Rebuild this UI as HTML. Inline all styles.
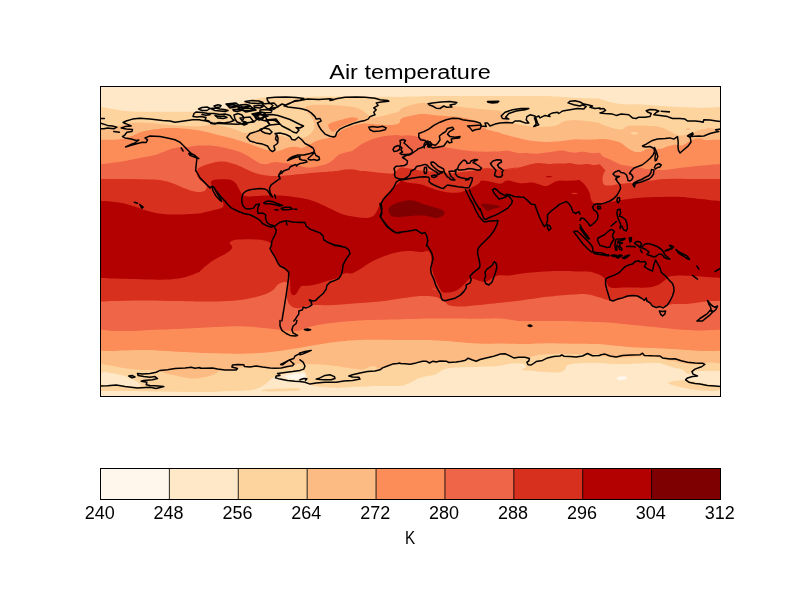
<!DOCTYPE html><html><head><meta charset="utf-8"><title>Air temperature</title>
<style>html,body{margin:0;padding:0;background:#fff}body{width:800px;height:600px;overflow:hidden;font-family:"Liberation Sans",sans-serif}svg{display:block}text{font-family:"Liberation Sans",sans-serif;fill:#000}</style></head><body>
<svg width="800" height="600" viewBox="0 0 800 600">
<rect width="800" height="600" fill="#fff"/>
<defs><clipPath id="ax"><rect x="100.5" y="86.5" width="620.0" height="310.0"/></clipPath></defs>
<g clip-path="url(#ax)">
<rect x="100.5" y="86.5" width="620.0" height="310.0" fill="#fee8c8"/>
<path d="M99,106.8 L100,106.8 L100.1,106.8 L100.2,106.8 L100.4,106.9 L100.8,106.9 L101.7,107.1 L103.2,107.4 L105.4,107.8 L108.3,108.3 L111.2,108.8 L114.1,109.3 L117.2,109.8 L120.3,110.3 L123.4,110.7 L126.6,111 L129.7,111.3 L132.8,111.5 L136.7,111.6 L141.4,111.8 L146.9,111.8 L153.1,111.8 L159.4,111.8 L165.6,111.8 L171.9,111.8 L178.1,111.8 L183.6,111.8 L188.3,111.8 L192.2,111.8 L195.3,111.8 L198.4,111.8 L201.6,111.6 L204.7,111.5 L207.8,111.3 L210.9,111 L214.1,110.6 L217.2,110.1 L220.3,109.4 L223.4,108.7 L226.6,108 L229.7,107.1 L232.8,106.2 L235.8,105.3 L238.6,104.3 L241.2,103.4 L243.8,102.4 L246.2,101.6 L248.5,100.8 L250.8,100.1 L252.9,99.4 L255.1,98.9 L257.3,98.4 L259.5,98 L261.7,97.7 L264.3,97.4 L267.3,97.2 L270.6,97.1 L274.4,97.1 L278.4,97 L282.8,97 L287.5,97 L292.5,97 L297,97 L301.1,96.9 L304.7,96.9 L307.8,96.8 L311.7,96.7 L316.4,96.6 L321.9,96.5 L328.1,96.5 L334.4,96.4 L340.6,96.4 L346.9,96.4 L353.1,96.4 L358.6,96.4 L363.3,96.5 L367.2,96.6 L370.3,96.8 L373.4,96.9 L376.6,96.9 L379.7,96.9 L382.8,96.8 L385.9,96.7 L389.1,96.7 L392.2,96.8 L395.3,96.9 L398.4,96.9 L401.6,96.9 L404.7,96.8 L407.8,96.6 L411.7,96.5 L416.4,96.4 L421.9,96.2 L428.1,96.1 L434.4,96.1 L440.6,96 L446.9,96 L453.1,96 L460.2,96 L468,96 L476.6,96 L485.9,96 L494.5,96 L502.3,96 L509.4,96 L515.6,96 L521.9,96 L528.1,96 L534.4,96 L540.6,96 L546.1,96.1 L550.8,96.2 L554.7,96.4 L557.8,96.6 L560.9,96.9 L564.1,97.1 L567.2,97.3 L570.3,97.6 L573.4,97.8 L576.6,97.9 L579.7,98 L582.8,98.1 L585.9,98.2 L589.1,98.2 L592.2,98.3 L595.3,98.4 L597.7,98.5 L599.2,98.6 L600,98.7 L600,98.9 L600.8,99.2 L602.3,99.8 L604.7,100.5 L607.8,101.5 L610.9,102.3 L614.1,103 L617.2,103.5 L620.3,103.9 L623.4,104.2 L626.6,104.3 L629.7,104.4 L632.8,104.2 L635.9,104.2 L639.1,104.3 L642.2,104.4 L645.3,104.7 L648.4,104.9 L651.6,105.1 L654.7,105.4 L657.8,105.6 L660.9,105.9 L664.1,106.1 L667.2,106.4 L670.3,106.6 L673.4,106.8 L676.6,107 L679.7,107.1 L682.8,107.1 L685.9,107.2 L689.1,107.3 L692.2,107.5 L695.3,107.6 L698.3,107.7 L701.1,107.8 L703.8,107.8 L706.2,107.6 L708.8,107.5 L711.3,107.4 L713.9,107.3 L716.6,107.2 L718.5,107.1 L719.8,107 L720.5,107 L722,107 L722,371 L720.5,371 L719.8,371 L718.5,371 L716.6,371 L713.9,371 L711.4,371 L709,371 L706.7,371 L704.5,371 L702.4,371 L700.4,371 L698.4,371 L696.6,371 L695,371.2 L693.8,371.5 L692.8,371.9 L692.2,372.6 L691.5,373.1 L690.7,373.5 L689.8,373.7 L688.9,373.9 L688,373.8 L687,373.4 L686.1,372.7 L685.2,371.8 L684.3,371 L683.5,370.4 L682.8,369.9 L682.2,369.6 L681.1,369.2 L679.7,368.8 L677.9,368.4 L675.8,367.9 L673.7,367.4 L671.6,366.9 L669.7,366.3 L667.8,365.7 L666.1,365.1 L664.5,364.6 L663.1,364.1 L661.9,363.6 L660.3,363.3 L658.4,363 L656.2,362.9 L653.8,362.9 L651.1,362.9 L648.3,363 L645.3,363.1 L642.2,363.3 L639.1,363.4 L635.9,363.6 L632.8,363.7 L629.7,363.9 L626.6,364 L623.4,364.1 L620.3,364.1 L617.2,364.1 L614.1,364 L610.9,363.9 L607.8,363.6 L604.7,363.4 L601.6,363.1 L598.4,363 L595.3,362.9 L592.2,362.9 L589.1,362.9 L585.9,363 L582.8,363.1 L579.7,363.3 L576.9,363.5 L574.4,363.7 L572.2,364 L570.3,364.3 L568.8,364.7 L567.6,365.2 L566.8,365.7 L566.3,366.3 L565.9,366.9 L565.6,367.6 L565.4,368.4 L565.2,369.2 L564.7,370 L563.9,370.7 L562.7,371.3 L561.1,372 L559.4,372.4 L557.5,372.6 L555.5,372.6 L553.3,372.5 L551.1,372.3 L548.9,372.2 L546.7,372.1 L544.5,372.1 L542.5,372 L540.6,371.8 L538.9,371.6 L537.3,371.4 L535.5,371.1 L533.5,371 L531.2,370.8 L528.8,370.6 L526.6,370.5 L524.7,370.3 L523.1,370.2 L521.9,370 L521.4,369.8 L521.6,369.4 L522.6,368.8 L524.3,368.2 L525.5,367.5 L526.1,366.8 L526.2,366 L525.7,365.3 L524.8,364.6 L523.5,364.1 L521.7,363.6 L519.5,363.4 L517.3,363.2 L515.1,363.2 L512.9,363.4 L510.8,363.6 L508.7,364 L506.6,364.4 L504.7,364.8 L502.8,365.3 L500.6,365.7 L498.1,366 L495.3,366.2 L492.2,366.4 L489.1,366.5 L485.9,366.6 L482.8,366.8 L479.7,366.8 L476.6,366.9 L473.4,367 L470.3,367.1 L467.2,367.1 L464.1,367.2 L460.9,367.3 L457.8,367.5 L454.7,367.6 L452,367.8 L449.6,368.1 L447.7,368.4 L446.1,368.6 L444.7,369 L443.5,369.5 L442.4,370 L441.4,370.7 L440.5,371.3 L439.5,372 L438.6,372.8 L437.6,373.6 L436.4,374.3 L434.8,374.8 L432.9,375.3 L430.8,375.5 L428.6,375.9 L426.4,376.3 L424.2,376.7 L422.1,377.2 L420,377.8 L418.2,378.5 L416.4,379.3 L414.9,380.2 L413.4,381.1 L412,381.8 L410.6,382.5 L409.4,383.2 L408,383.8 L406.4,384.3 L404.7,384.9 L402.8,385.4 L400.6,385.8 L398.1,386 L395.3,386.1 L392.2,386.1 L389.1,386 L385.9,386 L382.8,386 L379.7,386 L376.6,386 L373.4,386.1 L370.3,386.2 L367.2,386.4 L364.1,386.5 L360.9,386.7 L357.8,386.8 L354.7,387 L351.6,387.1 L348.4,387.3 L345.3,387.5 L342.2,387.6 L339.1,387.7 L335.9,387.7 L332.8,387.6 L329.7,387.5 L326.6,387.3 L323.4,387 L320.3,386.7 L317.2,386.5 L314.6,386.1 L312.6,385.6 L311.1,385.1 L310.2,384.4 L309.3,383.8 L308.5,383.1 L307.8,382.3 L307.2,381.6 L306.7,380.7 L306.5,379.8 L306.5,378.8 L306.6,377.7 L306.6,376.5 L306.5,375.3 L306.2,374.1 L305.7,372.9 L305,371.9 L304.2,371.2 L303.1,370.8 L301.9,370.6 L300.2,370.7 L298,370.9 L295.3,371.3 L292.2,372 L289.4,372.6 L286.9,373.1 L284.7,373.7 L282.8,374.2 L281.1,374.7 L279.5,375.2 L278.1,375.6 L276.9,376 L275.7,376.4 L274.6,376.9 L273.6,377.4 L272.6,378 L271.7,378.6 L270.7,379.4 L269.8,380.2 L268.9,381.1 L267.9,382 L266.8,383 L265.6,383.9 L264.4,384.8 L263,385.7 L261.6,386.5 L260.1,387.3 L258.6,388 L257,388.6 L255.4,389.2 L253.9,389.6 L252.3,389.9 L250.4,390.2 L248,390.4 L245.3,390.5 L242.2,390.7 L239.1,390.8 L235.9,390.9 L232.8,390.9 L229.7,391.1 L226.6,391.2 L223.4,391.3 L220.3,391.5 L217.2,391.7 L214.1,391.9 L210.9,392 L207.8,392.1 L204.7,392.1 L200,392.1 L193.8,392.1 L185.9,392 L176.6,391.8 L168,391.7 L160.2,391.6 L153.1,391.5 L146.9,391.3 L141.4,391.2 L136.7,391.1 L132.8,391.1 L129.7,390.9 L126.6,390.9 L123.4,390.9 L120.3,390.9 L117.2,390.9 L114.1,391 L110.9,391 L107.8,391 L104.7,391 L102.3,391 L100.8,391 L100,391 L99,391Z" fill="#fdd49e"/>
<path d="M99,130 L100,130 L100.1,130 L100.2,130 L100.4,129.9 L100.8,129.9 L101.7,129.7 L103.2,129.3 L105.4,128.8 L108.3,128.2 L111.2,127.5 L114.1,126.8 L117.2,126 L120.3,125.3 L123,124.6 L125.4,124.1 L127.3,123.7 L128.9,123.3 L130.4,123.1 L132,122.9 L133.6,122.8 L135.1,122.6 L137.1,122.6 L139.4,122.6 L142.2,122.6 L145.3,122.8 L148.4,122.9 L151.6,123.1 L154.7,123.3 L157.8,123.7 L160.9,124 L164.1,124.3 L167.2,124.6 L170.3,124.9 L173.4,125.2 L176.6,125.4 L179.7,125.6 L182.8,125.8 L185.9,125.9 L189.1,126.1 L192.2,126.2 L195.3,126.4 L198.4,126.3 L201.6,126.1 L204.7,125.7 L207.8,125 L210.9,124.7 L214.1,124.7 L217.2,125 L220.3,125.7 L223.3,126.3 L226.1,126.9 L228.8,127.5 L231.2,128.2 L233.5,128.8 L235.5,129.5 L237.3,130.3 L238.9,131 L240.4,131.7 L242,132.2 L243.6,132.7 L245.1,133 L246.6,133.1 L248,132.9 L249.4,132.6 L250.6,131.9 L252,131.4 L253.4,130.9 L254.9,130.6 L256.4,130.2 L258,130.1 L259.6,130.2 L261.1,130.5 L262.7,130.9 L264.3,131.4 L266,131.8 L267.8,132.3 L269.7,132.8 L271.4,133.2 L273,133.6 L274.4,134 L275.6,134.3 L277.2,134.7 L279.1,135.2 L281.2,135.7 L283.8,136.3 L285.9,136.9 L287.8,137.4 L289.4,137.9 L290.6,138.4 L292,138.7 L293.6,138.9 L295.3,138.9 L297.2,138.7 L298.6,138.6 L299.5,138.4 L300,138.3 L300,138.1 L300.4,138 L301.2,137.8 L302.3,137.6 L303.9,137.5 L305.4,137 L307,136.3 L308.6,135.3 L310.1,134.1 L311.5,132.8 L312.6,131.3 L313.4,129.9 L314.1,128.3 L314.4,126.7 L314.4,125 L314.1,123.2 L313.4,121.3 L312.7,119.5 L311.7,117.8 L310.6,116.1 L309.4,114.6 L308.2,113.2 L307.1,111.9 L306.1,110.8 L305.2,109.9 L304.7,109 L304.7,108.1 L305.2,107.3 L306.1,106.6 L307.5,105.9 L309.4,105.4 L311.7,105.1 L314.6,104.8 L317.9,104.7 L321.6,104.7 L325.8,104.8 L330.5,105.1 L334.9,105.3 L339.1,105.6 L343.1,105.8 L346.9,106.2 L350.3,106.6 L353.4,107.1 L356.2,107.8 L358.8,108.6 L360.9,109.5 L362.8,110.5 L364.4,111.7 L365.6,112.9 L366.9,114.1 L368.1,115.1 L369.4,116 L370.6,116.7 L372,117.2 L373.6,117.5 L375.3,117.4 L377.2,117.1 L379.1,116.7 L380.9,116.3 L382.8,115.9 L384.7,115.5 L386.9,114.9 L389.4,114.3 L392.2,113.6 L395.3,112.8 L397.7,112 L399.2,111.2 L400,110.4 L400,109.7 L400.8,108.8 L402.3,107.9 L404.7,107 L407.8,106 L410.8,105.1 L413.6,104.4 L416.2,103.8 L418.8,103.2 L421.2,103 L423.5,102.9 L425.8,103.1 L427.9,103.5 L430.7,103.9 L434.2,104.4 L438.2,104.8 L443,105.3 L447.3,105.7 L451.2,106.1 L454.7,106.4 L457.8,106.8 L460.9,107.1 L464.1,107.4 L467.2,107.7 L470.3,108 L473.4,108.3 L476.6,108.7 L479.7,109 L482.8,109.3 L485.9,109.6 L489.1,109.8 L492.2,110 L495.3,110.2 L497.7,110.3 L499.2,110.4 L500,110.4 L500,110.4 L500.2,110.7 L500.7,111.2 L501.4,112.1 L502.4,113.1 L503.3,114.3 L504.3,115.5 L505.2,116.7 L506.1,117.9 L507.1,119.1 L508.2,120.1 L509.4,121.1 L510.6,121.9 L512.3,122.7 L514.5,123.5 L517.2,124.3 L520.3,124.9 L523.4,125.5 L526.6,126 L529.7,126.4 L532.8,126.8 L535.9,126.9 L539.1,127 L542.2,127 L545.3,126.8 L548.1,126.6 L550.6,126.4 L552.8,126.2 L554.7,125.8 L556.4,125.4 L558,124.8 L559.4,124 L560.6,123 L562,122.2 L563.4,121.6 L564.9,121.2 L566.4,120.8 L568,120.6 L569.6,120.4 L571.1,120.2 L572.7,120.1 L574.6,120.1 L577,120.2 L579.7,120.4 L582.8,120.6 L585.9,120.9 L589.1,121.3 L592.2,121.7 L595.3,122.2 L597.7,122.6 L599.2,123 L600,123.2 L600,123.5 L600.5,123.8 L601.4,124.3 L602.8,124.8 L604.7,125.5 L606.6,126.2 L608.7,126.9 L610.8,127.5 L612.9,128.2 L615,128.7 L616.8,129.1 L618.6,129.4 L620.1,129.5 L621.5,129.5 L622.6,129.3 L623.4,128.8 L624.1,128.2 L624.8,127.6 L625.8,127 L626.9,126.5 L628.1,126.1 L629.5,125.7 L631.1,125.5 L632.8,125.4 L634.7,125.4 L636.9,125.4 L639.4,125.5 L642.2,125.6 L645.3,125.6 L648.3,125.8 L651.1,125.9 L653.8,126.1 L656.2,126.3 L658.6,126.7 L660.8,127.2 L662.8,127.9 L664.7,128.7 L666.5,129.6 L668.2,130.4 L669.9,131.3 L671.4,132.2 L672.9,133 L674.3,133.7 L675.7,134.4 L676.9,134.9 L678.2,135.3 L679.6,135.5 L681.1,135.4 L682.7,135.2 L684.2,134.9 L685.8,134.5 L687.3,134.1 L688.9,133.6 L690.6,133.1 L692.5,132.4 L694.5,131.7 L696.7,131 L698.5,130.3 L699.9,129.9 L700.9,129.5 L701.6,129.4 L702.5,129.2 L703.8,128.9 L705.3,128.7 L707.2,128.3 L708.9,128.2 L710.5,128.1 L711.9,128.2 L713.1,128.5 L714.4,128.7 L715.7,128.9 L717.1,129.2 L718.4,129.4 L719.5,129.6 L720.2,129.7 L720.5,129.8 L722,129.8 L722,363.5 L720.5,363.5 L719.8,363.4 L718.5,363.3 L716.6,363 L713.9,362.7 L711.7,362.5 L709.7,362.4 L708.1,362.5 L706.9,362.6 L705.6,362.9 L704.4,363.2 L703.1,363.6 L701.9,364.1 L700.2,364.4 L698,364.6 L695.3,364.5 L692.2,364.4 L689.5,364.2 L687.1,363.9 L685.1,363.6 L683.6,363.4 L681.8,363 L680,362.6 L677.9,362.2 L675.8,361.7 L673.7,361.3 L671.6,360.9 L669.7,360.5 L667.8,360.3 L666.1,359.9 L664.5,359.4 L663.1,358.9 L661.9,358.4 L660.3,357.9 L658.4,357.5 L656.2,357.2 L653.8,356.9 L651.1,356.8 L648.3,356.7 L645.3,356.6 L642.2,356.6 L639.1,356.7 L635.9,356.8 L632.8,356.9 L629.7,357.2 L626.6,357.4 L623.4,357.5 L620.3,357.7 L617.2,357.8 L614.5,357.7 L612.1,357.6 L610.1,357.4 L608.6,357.1 L607,356.7 L605.4,356.3 L603.9,355.8 L602.3,355.3 L600.4,354.8 L598,354.5 L595.3,354.2 L592.2,354.1 L589.1,354 L585.9,354 L582.8,354.1 L579.7,354.2 L576.6,354.3 L573.4,354.3 L570.3,354.2 L567.2,354.1 L564.1,353.9 L560.9,353.8 L557.8,353.8 L554.7,353.8 L551.6,353.9 L548.4,354 L545.3,354.2 L542.2,354.4 L539.4,354.8 L536.9,355.2 L534.7,355.7 L532.8,356.3 L531.1,356.7 L529.5,356.9 L528.1,357 L526.9,356.8 L525.3,356.8 L523.4,356.8 L521.2,356.8 L518.8,357 L516.4,356.9 L514.2,356.7 L512.2,356.3 L510.3,355.7 L508.4,355.2 L506.6,354.8 L504.7,354.5 L502.8,354.4 L501.2,354.3 L500,354.3 L499.1,354.4 L498.4,354.7 L497.5,355 L496.2,355.3 L494.7,355.8 L492.8,356.2 L490.9,356.7 L489.1,357.2 L487.2,357.6 L485.3,357.9 L483.5,358.4 L481.8,358.9 L480.1,359.4 L478.6,360.1 L477.1,360.5 L475.9,360.6 L474.8,360.5 L473.9,360.3 L472.9,359.9 L471.9,359.6 L470.8,359.3 L469.8,359 L468.7,358.9 L467.8,358.9 L466.9,359.2 L466.2,359.7 L465,360.1 L463.5,360.6 L461.7,361 L459.5,361.4 L457.3,361.7 L455.1,361.9 L452.9,362.1 L450.8,362.1 L448.5,362.1 L446.2,362 L443.8,361.8 L441.2,361.6 L438.9,361.5 L436.7,361.6 L434.7,361.8 L432.8,362.3 L430.9,362.5 L429.1,362.5 L427.2,362.3 L425.3,361.8 L423.1,361.7 L420.6,361.8 L417.8,362.3 L414.7,363 L411.7,363.5 L408.9,363.8 L406.2,363.8 L403.8,363.5 L401.6,363.4 L399.9,363.3 L398.6,363.3 L397.6,363.4 L396.5,363.6 L395.3,363.8 L393.9,364.2 L392.3,364.7 L390.7,365.2 L389,365.9 L387.2,366.6 L385.3,367.3 L383.6,368 L382,368.4 L380.6,368.7 L379.4,368.9 L378.3,368.8 L377.5,368.5 L376.8,368 L376.3,367.3 L375.7,366.7 L374.9,366.3 L374,366.1 L372.8,366.1 L371.7,366.2 L370.5,366.4 L369.3,366.8 L368.1,367.4 L366.9,367.9 L365.8,368.4 L364.8,368.8 L363.9,369.2 L362.4,369.4 L360.4,369.4 L357.8,369.2 L354.7,368.8 L351.6,368.4 L348.4,367.9 L345.3,367.4 L342.2,366.9 L339.1,366.5 L335.9,366.1 L332.8,365.7 L329.7,365.3 L326.6,365 L323.4,364.8 L320.3,364.5 L317.2,364.4 L314.1,364.2 L310.9,364 L307.8,363.9 L304.7,363.7 L302.1,363.6 L300.1,363.6 L298.6,363.7 L297.6,363.9 L296.7,364.1 L295.7,364.5 L294.8,364.9 L293.9,365.4 L292.9,365.9 L291.8,366.4 L290.6,366.8 L289.4,367.3 L288,367.7 L286.4,368 L284.7,368.4 L282.8,368.6 L280.7,368.8 L278.4,368.9 L275.8,368.8 L273,368.5 L270.1,368.3 L267.1,368 L264.1,367.7 L260.9,367.5 L257.9,367.2 L254.9,367.1 L252,367 L249.2,367 L246.6,367.1 L244.3,367.2 L242.2,367.3 L240.3,367.6 L238.8,367.9 L237.7,368.3 L237,368.8 L236.7,369.5 L235.7,369.9 L234.2,370.2 L232,370.4 L229.2,370.4 L226.7,370.4 L224.5,370.5 L222.7,370.6 L221.1,370.8 L219.7,371.1 L218.5,371.5 L217.4,372.2 L216.4,372.9 L215.2,373.7 L213.8,374.4 L212.2,375 L210.3,375.7 L208.4,376.2 L206.6,376.7 L204.7,377.1 L202.8,377.4 L201.1,377.7 L199.5,378 L198.1,378.2 L196.9,378.5 L195.5,378.6 L193.9,378.6 L192.2,378.6 L190.3,378.4 L188.1,378.1 L185.6,377.7 L182.8,377.1 L179.7,376.4 L176.7,375.8 L173.9,375.2 L171.2,374.7 L168.8,374.2 L166.5,373.7 L164.5,373 L162.7,372.3 L161.1,371.6 L159.4,371 L157.5,370.5 L155.5,370.2 L153.3,370.2 L150.9,370.1 L148.2,370 L145.3,369.9 L142.2,369.9 L139.1,369.7 L135.9,369.5 L132.8,369.2 L129.7,368.8 L126.6,368.4 L123.4,367.9 L120.3,367.4 L117.2,366.8 L114.1,366.3 L110.9,365.7 L107.8,365.1 L104.7,364.4 L102.3,364 L100.8,363.7 L100,363.5 L99,363.5Z" fill="#fdbb84"/>
<path d="M99,139.8 L100,139.8 L100.8,139.8 L102.3,139.8 L104.7,139.8 L107.8,139.8 L110.7,139.8 L113.3,139.7 L115.8,139.5 L117.9,139.4 L120,139.1 L122.1,138.8 L124.1,138.4 L126,137.9 L127.9,137.3 L130,136.6 L132.1,135.8 L134.2,134.9 L136.1,134.1 L137.7,133.4 L138.9,132.8 L139.8,132.3 L141.1,131.9 L142.6,131.4 L144.5,131 L146.7,130.6 L149.1,130.2 L151.8,129.8 L154.7,129.3 L157.8,128.9 L160.9,128.5 L164.1,128.3 L167.2,128.1 L170.3,128 L173.4,128 L176.6,128.1 L179.7,128.2 L182.8,128.5 L185.9,128.7 L189.1,129 L192.2,129.4 L195.3,129.8 L198.4,130.3 L201.6,130.9 L204.7,131.6 L207.8,132.3 L210.9,133.1 L214.1,133.9 L217.2,134.7 L220.3,135.4 L223.4,136.2 L226.6,137 L229.7,137.8 L232.8,138.6 L235.9,139.5 L239.1,140.4 L242.2,141.4 L245.3,142.5 L248.4,143.6 L251.6,144.7 L254.7,145.8 L257.8,146.9 L260.6,147.8 L263.1,148.7 L265.3,149.4 L267.2,150.1 L269.1,150.6 L270.9,151 L272.8,151.2 L274.7,151.4 L276.6,151.3 L278.4,151 L280.3,150.4 L282.2,149.7 L284.1,149 L285.9,148.3 L287.8,147.8 L289.7,147.3 L291.6,147 L293.4,146.8 L295.3,146.8 L297.2,147 L298.6,147.2 L299.5,147.4 L300,147.7 L300,148 L300.5,148.1 L301.4,147.9 L302.8,147.6 L304.7,146.9 L306.5,146.2 L308.2,145.4 L309.9,144.6 L311.4,143.6 L312.9,142.8 L314.3,142 L315.7,141.3 L316.9,140.7 L318.4,140.2 L320.1,139.7 L322.1,139.2 L324.2,138.8 L326.3,138.4 L328.4,138.1 L330.3,137.8 L332.2,137.6 L333.8,137.2 L335,136.6 L335.9,135.8 L336.6,134.9 L337.4,133.9 L338.5,132.8 L339.9,131.7 L341.4,130.6 L343.2,129.5 L345,128.5 L347.1,127.7 L349.2,126.9 L351.5,126.2 L353.8,125.5 L356.2,124.8 L358.8,124.2 L361.1,123.7 L363.3,123.5 L365.3,123.4 L367.2,123.6 L369.1,123.7 L370.9,123.9 L372.8,124.1 L374.7,124.2 L376.7,124.4 L378.9,124.6 L381.2,124.8 L383.8,125.1 L386.4,125.2 L389.2,125.1 L392.2,124.9 L395.3,124.6 L397.7,124 L399.2,123.1 L400,121.9 L400,120.4 L400.6,119.2 L401.9,118.2 L403.8,117.4 L406.2,116.8 L408.8,116.3 L411.5,115.7 L414.2,115.1 L417,114.4 L419.7,114 L422.4,113.9 L424.9,114 L427.4,114.3 L430.1,114.6 L432.9,114.9 L435.9,115.2 L439.1,115.6 L442.2,115.8 L445.3,116 L448.4,116.2 L451.6,116.4 L454.6,116.6 L457.5,116.9 L460.4,117.3 L463.3,117.8 L465.9,118.3 L468.4,118.8 L470.8,119.4 L472.9,119.9 L474.8,120.6 L476.4,121.4 L477.6,122.3 L478.6,123.3 L479.6,124.3 L480.7,125.3 L481.9,126.3 L483.1,127.3 L484.5,128.2 L486.1,129 L487.8,129.7 L489.7,130.3 L491.6,130.8 L493.4,131.3 L495.3,131.7 L497.2,132 L498.6,132.3 L499.5,132.6 L500,132.8 L500,132.9 L500.8,133.3 L502.3,133.8 L504.7,134.5 L507.8,135.3 L510.9,136.2 L514.1,137 L517.2,137.8 L520.3,138.6 L523.4,139.3 L526.6,139.9 L529.7,140.5 L532.8,140.9 L535.9,141.3 L539.1,141.6 L542.2,141.8 L545.3,141.9 L548.4,141.9 L551.6,141.8 L554.7,141.6 L557.8,141.4 L560.9,141.1 L564.1,140.7 L567.2,140.3 L570.3,139.8 L573.4,139.5 L576.6,139.3 L579.7,139.4 L582.8,139.5 L585.9,139.6 L589.1,139.6 L592.2,139.5 L595.3,139.4 L597.7,139.2 L599.2,139.1 L600,139 L600,138.9 L600.5,138.9 L601.4,138.9 L602.8,138.9 L604.7,139 L606.6,139.2 L608.4,139.4 L610.3,139.8 L612.2,140.3 L613.9,140.7 L615.5,141.1 L616.9,141.4 L618.1,141.8 L619.4,142.2 L620.6,142.8 L621.9,143.6 L623.1,144.6 L624.4,145.5 L625.6,146.5 L626.9,147.4 L628.1,148.4 L629.5,149.3 L630.8,150.1 L632.3,150.8 L633.9,151.5 L635.4,151.9 L637,152.1 L638.6,152.1 L640.1,151.9 L641.6,151.5 L642.9,151.1 L644.2,150.5 L645.2,149.8 L646.4,149.3 L647.7,148.9 L649,148.7 L650.4,148.6 L651.8,148.6 L653.1,148.6 L654.4,148.7 L655.6,148.8 L656.9,148.9 L658.1,148.9 L659.4,148.8 L660.6,148.7 L662,148.4 L663.6,147.9 L665.3,147.3 L667.2,146.6 L669.1,145.9 L670.9,145.4 L672.8,145.1 L674.7,144.8 L676.3,144.8 L677.7,144.8 L678.9,145.1 L679.8,145.4 L680.8,145.6 L681.9,145.4 L683.1,145.1 L684.3,144.4 L685.6,143.7 L686.8,143 L688.1,142.1 L689.3,141.2 L690.8,140.4 L692.5,139.7 L694.5,139.1 L696.7,138.6 L698.7,138.4 L700.4,138.5 L701.9,138.8 L703.1,139.5 L704.5,139.9 L706.1,140.1 L707.8,140.2 L709.7,140 L711.6,139.9 L713.5,139.8 L715.5,139.8 L717.5,139.8 L719,139.8 L720,139.8 L720.5,139.8 L722,139.8 L722,350.8 L720.5,350.8 L719.8,350.8 L718.5,350.8 L716.6,350.9 L713.9,350.9 L711.3,351 L708.8,351 L706.2,351 L703.8,351 L701.1,350.9 L698.3,350.8 L695.3,350.6 L692.2,350.4 L689.1,350.1 L685.9,349.9 L682.8,349.7 L679.7,349.4 L676.6,349.2 L673.4,349 L670.3,348.9 L667.2,348.7 L664.1,348.6 L660.9,348.4 L657.8,348.3 L654.7,348.1 L651.6,348 L648.4,347.9 L645.3,347.8 L642.2,347.7 L639.1,347.5 L635.9,347.4 L632.8,347.2 L629.7,346.9 L626.6,346.7 L623.4,346.4 L620.3,346.1 L617.2,345.9 L614.1,345.5 L610.9,345.2 L607.8,344.9 L604.7,344.6 L601.6,344.3 L598.4,344.1 L595.3,344 L592.2,343.9 L589.1,343.9 L585.9,343.8 L582.8,343.8 L579.7,343.8 L576.6,343.8 L573.4,343.7 L570.3,343.7 L567.2,343.6 L564.1,343.5 L560.9,343.5 L557.8,343.4 L554.7,343.3 L551.6,343.3 L548.4,343.3 L545.3,343.3 L542.2,343.4 L539.1,343.5 L535.9,343.6 L532.8,343.7 L529.7,343.9 L526.6,344 L523.4,344 L520.3,344 L517.2,343.9 L514.1,343.8 L510.9,343.8 L507.8,343.7 L504.7,343.6 L501.6,343.6 L498.4,343.6 L495.3,343.6 L492.2,343.7 L489.1,343.7 L485.9,343.7 L482.8,343.7 L479.7,343.6 L476.6,343.5 L473.4,343.3 L470.3,343.1 L467.2,342.9 L464.1,342.6 L460.9,342.3 L457.8,342 L454.7,341.7 L451.6,341.4 L448.4,341.1 L445.3,340.9 L442.2,340.7 L439.1,340.5 L435.9,340.4 L432.8,340.2 L429.7,340.1 L426.6,340.1 L423.4,340 L420.3,340 L417.2,340 L414.1,340 L410.9,340 L407.8,340 L404.7,340 L401.6,340 L398.4,340 L395.3,339.9 L392.2,339.9 L389.1,339.8 L385.9,339.8 L382.8,339.8 L379.7,339.8 L376.6,339.8 L373.4,339.8 L370.3,339.8 L367.2,339.8 L364.1,339.8 L360.9,339.9 L357.8,340 L354.7,340.2 L351.6,340.4 L348.4,340.6 L345.3,340.9 L342.2,341.2 L339.1,341.5 L335.9,341.9 L332.8,342.3 L329.7,342.8 L326.6,343.3 L323.4,343.7 L320.3,344.2 L317.2,344.7 L314.1,345.2 L310.9,345.7 L307.8,346.3 L304.7,347 L301.6,347.5 L298.4,348.1 L295.3,348.6 L292.2,349.1 L289.1,349.6 L285.9,350 L282.8,350.5 L279.7,350.9 L276.6,351.3 L273.4,351.7 L270.3,352.1 L267.2,352.4 L264.1,352.7 L260.9,352.9 L257.8,353.1 L254.7,353.3 L251.6,353.4 L248.4,353.5 L245.3,353.6 L242.2,353.7 L239.1,353.7 L235.9,353.7 L232.8,353.7 L229.7,353.6 L226.6,353.5 L223.4,353.5 L220.3,353.4 L217.2,353.3 L214.1,353.2 L210.9,353.2 L207.8,353.1 L204.7,353 L201.6,352.9 L198.4,352.8 L195.3,352.6 L192.2,352.5 L189.1,352.3 L185.9,352.1 L182.8,352 L179.7,351.8 L176.6,351.7 L173.4,351.5 L170.3,351.3 L167.2,351.1 L164.1,350.9 L160.9,350.7 L157.8,350.5 L154.7,350.3 L151.6,350.1 L148.4,350.1 L145.3,350 L142.2,350 L139.1,350 L135.9,350.1 L132.8,350.2 L129.7,350.2 L126.6,350.4 L123.4,350.5 L120.3,350.6 L117.2,350.8 L114.1,350.9 L110.9,350.9 L107.8,350.9 L104.7,350.9 L102.3,350.8 L100.8,350.8 L100,350.8 L99,350.8Z" fill="#fc8d59"/>
<path d="M99,164.2 L100,164.2 L100.8,164.1 L102.3,164 L104.7,163.7 L107.8,163.4 L110.9,163 L114.1,162.6 L117.2,162.2 L120.3,161.7 L123.4,161.2 L126.6,160.7 L129.7,160.1 L132.8,159.4 L135.9,158.8 L139.1,158.2 L142.2,157.6 L145.3,156.9 L148,156.4 L150.4,155.9 L152.3,155.6 L153.9,155.2 L155.4,154.9 L157,154.4 L158.6,153.8 L160.1,153.2 L161.7,152.5 L163.3,151.9 L164.9,151.3 L166.4,150.7 L168,150.1 L169.6,149.6 L171.1,149.1 L172.7,148.6 L174.2,148.2 L175.8,147.9 L177.3,147.6 L178.9,147.5 L180.4,147.3 L182,147.2 L183.6,147.2 L185.1,147.2 L186.7,147.1 L188.3,147 L189.9,146.8 L191.4,146.4 L193,146.2 L194.6,146 L196.1,145.8 L197.7,145.6 L199.6,145.5 L202,145.4 L204.7,145.4 L207.8,145.4 L210.9,145.6 L214.1,145.9 L217.2,146.3 L220.3,147 L223.4,147.6 L226.6,148.3 L229.7,149.1 L232.8,149.8 L235.8,150.7 L238.6,151.6 L241.2,152.6 L243.8,153.8 L246,154.9 L248.1,155.9 L249.9,157.1 L251.4,158.2 L253,159.2 L254.6,160.2 L256.1,161.2 L257.7,162.1 L259.2,162.9 L260.7,163.5 L262.2,163.9 L263.8,164.1 L265.2,164.2 L266.8,164.1 L268.2,163.8 L269.8,163.2 L271.1,162.8 L272.4,162.5 L273.5,162.2 L274.5,162.1 L275.6,162 L276.9,162 L278.2,162.2 L279.8,162.4 L281.2,162.7 L282.8,162.9 L284.2,163.1 L285.8,163.2 L287.2,163.4 L288.8,163.6 L290.2,163.9 L291.8,164.1 L293.2,164.4 L294.8,164.7 L296.2,165.1 L297.8,165.4 L299.2,165.8 L300.8,166.2 L302.2,166.6 L303.8,166.9 L305.2,167.2 L306.8,167.4 L308.2,167.5 L309.8,167.5 L311.4,167.4 L313.1,167.2 L315,166.9 L317,166.6 L319,166.1 L321,165.6 L323,165.1 L325,164.4 L326.8,163.8 L328.4,163 L329.9,162.2 L331.1,161.3 L332.3,160.4 L333.4,159.5 L334.5,158.5 L335.5,157.5 L336.4,156.6 L337.3,155.9 L338.1,155.2 L338.9,154.8 L339.9,154.2 L341.2,153.8 L342.8,153.2 L344.7,152.8 L346.4,152.3 L348,151.9 L349.4,151.6 L350.6,151.4 L352,150.9 L353.4,150.1 L354.9,149.1 L356.4,147.9 L358,146.7 L359.6,145.6 L361.1,144.6 L362.7,143.6 L364.3,142.7 L366,141.9 L367.8,141 L369.7,140.3 L371.6,139.5 L373.7,138.8 L375.8,138.2 L377.9,137.5 L380.1,137 L382.3,136.5 L384.5,136.2 L386.7,135.8 L389,135.6 L391.3,135.4 L393.8,135.2 L396.2,135.1 L398.1,135.1 L399.4,135.2 L400,135.4 L400,135.6 L400.5,135.8 L401.4,135.8 L402.8,135.6 L404.7,135.4 L406.6,135.3 L408.7,135.3 L410.8,135.4 L412.9,135.8 L415.1,136.2 L417.3,136.7 L419.5,137.3 L421.7,138 L423.7,138.8 L425.6,139.6 L427.3,140.5 L428.9,141.5 L430.4,142.4 L432,143.2 L433.6,144.1 L435.1,144.8 L436.8,145.5 L438.5,146 L440.3,146.4 L442.2,146.8 L444.2,147.1 L446.4,147.4 L448.8,147.8 L451.2,148.3 L454.1,148.7 L457.2,149.2 L460.6,149.7 L464.4,150.3 L467.9,150.7 L471.2,151.1 L474.2,151.4 L477,151.5 L480.3,151.6 L484,151.7 L488.2,151.7 L493,151.6 L496.5,151.5 L498.8,151.4 L500,151.3 L500,151.3 L500.5,151.2 L501.4,151.1 L502.8,150.9 L504.7,150.7 L506.4,150.6 L508,150.7 L509.4,150.8 L510.6,151.2 L512,151.5 L513.4,151.9 L514.9,152.3 L516.4,152.8 L518,153.1 L519.6,153.3 L521.1,153.3 L522.7,153.1 L524.2,153.1 L525.8,153.1 L527.3,153.1 L528.9,153.3 L530.4,153.4 L532,153.5 L533.6,153.6 L535.1,153.7 L536.7,153.7 L538.3,153.6 L539.9,153.5 L541.4,153.2 L543,153 L544.6,152.8 L546.1,152.6 L547.7,152.5 L549.2,152.3 L550.8,152 L552.3,151.8 L553.9,151.4 L555.4,151.2 L557,151 L558.6,150.8 L560.1,150.6 L561.8,150.6 L563.5,150.8 L565.3,151.1 L567.2,151.5 L568.9,151.9 L570.5,152.2 L571.9,152.5 L573.1,152.6 L574.5,152.7 L575.8,152.6 L577.3,152.4 L578.9,152.1 L580.4,151.9 L582,151.8 L583.6,151.8 L585.1,152 L586.7,152.2 L588.3,152.4 L589.9,152.7 L591.4,153 L593,153.2 L594.6,153.2 L596.1,153 L597.7,152.7 L599,152.7 L600,153.1 L600.8,153.8 L601.2,154.9 L602,155.8 L603,156.6 L604.2,157.2 L605.8,157.8 L607.2,158.3 L608.8,158.9 L610.2,159.6 L611.8,160.4 L613.2,161.1 L614.8,161.9 L616.2,162.6 L617.8,163.4 L619.2,164 L620.6,164.5 L621.9,164.9 L623.1,165.1 L624.4,165.3 L625.6,165.5 L626.9,165.7 L628.1,165.8 L629.3,166 L630.4,166.2 L631.5,166.4 L632.5,166.8 L633.6,167 L634.9,167.2 L636.2,167.4 L637.8,167.6 L639.2,167.8 L640.6,168 L641.9,168.2 L643.1,168.4 L644.4,168.7 L645.6,168.9 L646.9,169.1 L648.1,169.2 L649.4,169.4 L650.8,169.5 L652.2,169.6 L653.8,169.6 L655.2,169.7 L656.6,169.8 L658,169.9 L659.2,170 L660.8,170.1 L662.5,170 L664.5,169.9 L666.7,169.7 L669.1,169.4 L671.8,169.1 L674.7,168.7 L677.8,168.2 L680.9,167.8 L684.1,167.4 L687.2,167 L690.3,166.7 L693.4,166.4 L696.6,166.1 L699.7,165.8 L702.8,165.4 L706,165.2 L709.2,164.9 L712.4,164.6 L715.6,164.4 L718.1,164.2 L719.7,164.1 L720.5,164 L722,164 L722,329.8 L720.5,329.8 L719.8,329.8 L718.5,329.8 L716.6,329.9 L713.9,329.9 L711.3,330 L708.8,330.1 L706.2,330.3 L703.8,330.5 L701.1,330.6 L698.3,330.6 L695.3,330.5 L692.2,330.3 L689.1,330.1 L685.9,329.9 L682.8,329.7 L679.7,329.4 L676.6,329.2 L673.4,328.9 L670.3,328.7 L667.2,328.3 L664.1,328 L660.9,327.7 L657.8,327.4 L654.7,327.1 L651.6,326.8 L648.4,326.5 L645.3,326.2 L642.2,325.8 L639.1,325.5 L635.9,325.2 L632.8,324.9 L629.7,324.6 L626.6,324.3 L623.4,324 L620.3,323.7 L617.2,323.3 L614.1,323.1 L610.9,322.8 L607.8,322.6 L604.7,322.3 L601.7,322.2 L598.9,322 L596.2,321.9 L593.8,321.9 L591.2,321.8 L588.8,321.7 L586.2,321.7 L583.8,321.6 L580.6,321.4 L576.9,321.3 L572.5,321.2 L567.5,321.1 L561.1,321.1 L553.3,321 L544.1,321 L533.4,321 L525.5,321 L520.2,321 L517.5,321 L517.5,321 L517.1,320.9 L516.3,320.8 L515.1,320.5 L513.6,320.2 L511.6,319.9 L509.3,319.6 L506.6,319.2 L503.4,318.8 L500.4,318.5 L497.5,318.4 L494.6,318.3 L491.7,318.4 L489.1,318.5 L486.8,318.5 L484.7,318.6 L482.8,318.7 L479.8,318.7 L475.8,318.7 L470.6,318.7 L464.4,318.6 L458.1,318.6 L451.9,318.5 L445.6,318.5 L439.4,318.5 L433.1,318.5 L426.9,318.6 L420.6,318.7 L414.4,318.9 L408.1,319 L401.9,319.2 L395.6,319.4 L389.4,319.5 L383.8,319.7 L378.8,319.8 L374.4,319.9 L370.6,319.9 L367,320 L363.6,320.2 L360.3,320.4 L357.2,320.6 L354.3,320.9 L351.6,321 L349.2,321.2 L347.1,321.4 L344.6,321.6 L342,321.8 L339.1,322.1 L335.9,322.4 L332.8,322.8 L329.7,323.2 L326.6,323.6 L323.4,324.1 L320.4,324.6 L317.5,325.1 L314.6,325.7 L311.7,326.3 L309.1,327 L306.8,327.8 L304.7,328.6 L302.8,329.6 L300.6,330.3 L298.1,330.7 L295.3,330.9 L292.2,330.9 L289.4,330.8 L287.1,330.7 L285.1,330.5 L283.6,330.3 L282,330.1 L280.4,329.9 L278.9,329.7 L277.3,329.4 L275.4,329.2 L273,328.9 L270.3,328.7 L267.2,328.3 L264.1,328 L260.9,327.7 L257.8,327.4 L254.7,327.1 L251.6,326.8 L248.4,326.6 L245.3,326.4 L242.2,326.3 L239.1,326.3 L235.9,326.3 L232.8,326.3 L229.7,326.4 L226.6,326.6 L223.4,326.7 L220.3,326.8 L217.2,327 L214.1,327.1 L210.9,327.3 L207.8,327.5 L204.7,327.6 L201.6,327.8 L198.4,328 L195.3,328.1 L192.2,328.3 L189.1,328.4 L185.9,328.6 L182.8,328.7 L179.7,328.9 L176.6,329 L173.4,329.1 L170.3,329.2 L167.2,329.4 L164.1,329.5 L160.9,329.6 L157.8,329.7 L154.7,329.8 L151.6,330 L148.4,330.1 L145.3,330.3 L142.2,330.5 L139.1,330.7 L135.9,330.8 L132.8,330.9 L129.7,331.1 L126.6,331.1 L123.4,331.1 L120.3,331.1 L117.2,331.1 L114.1,330.9 L110.9,330.7 L107.8,330.4 L104.7,330.1 L102.3,329.8 L100.8,329.6 L100,329.5 L99,329.5Z" fill="#ef6548"/>
<path d="M99,179.1 L100,179.1 L100.8,179.1 L102.3,179.1 L104.7,179.1 L107.8,179.1 L111.7,179.1 L116.4,179.1 L121.9,179.1 L128.1,179.1 L134,179.1 L139.4,179.2 L144.5,179.2 L149.2,179.4 L153.3,179.5 L156.9,179.8 L159.9,180.1 L162.4,180.4 L164.9,180.9 L167.2,181.5 L169.5,182.2 L171.7,182.9 L174,183.8 L176.3,184.7 L178.8,185.7 L181.2,186.9 L183.7,187.9 L186,188.8 L188.3,189.7 L190.5,190.4 L192.5,191.1 L194.4,191.5 L196.1,191.8 L197.7,192 L198.8,192.1 L199.6,192.2 L200,192.2 L200,192.2 L200.3,192.1 L200.9,192 L201.9,191.8 L203.1,191.5 L204.2,191 L205.2,190.4 L205.9,189.6 L206.6,188.6 L206.8,187.6 L206.6,186.5 L206.1,185.3 L205.2,184.1 L204.3,183 L203.3,182.2 L202.4,181.5 L201.4,181.1 L200.5,180.4 L199.5,179.5 L198.6,178.3 L197.6,176.9 L197,175.5 L196.7,174 L196.7,172.4 L197,170.9 L197.4,169.6 L197.9,168.7 L198.4,168 L199.1,167.7 L200,167.2 L201.2,166.7 L202.8,166 L204.7,165.3 L206.6,164.6 L208.4,163.9 L210.3,163.4 L212.2,162.9 L214.1,162.5 L215.9,162.1 L217.8,161.8 L219.7,161.6 L221.6,161.5 L223.7,161.6 L225.8,161.8 L227.9,162.3 L230.1,162.8 L232.3,163.4 L234.5,164.1 L236.7,164.8 L238.8,165.7 L240.9,166.5 L242.8,167.4 L244.7,168.4 L246.2,169.2 L247.5,169.8 L248.4,170.2 L249.1,170.5 L249.5,170.8 L249.8,170.9 L250,171 L250,171 L250.4,171.2 L251.2,171.5 L252.3,171.9 L253.9,172.6 L255.6,173.2 L257.5,173.7 L259.5,174.2 L261.7,174.7 L264,175.1 L266.3,175.4 L268.8,175.7 L271.2,175.9 L273.9,176 L276.7,176 L279.7,175.9 L282.8,175.7 L285.9,175.5 L289.1,175.2 L292.2,174.9 L295.3,174.6 L297.7,174.3 L299.2,174.2 L300,174.1 L300,174.1 L300.8,174 L302.3,173.9 L304.7,173.7 L307.8,173.3 L310.9,173.1 L314.1,172.8 L317.2,172.6 L320.3,172.3 L323.3,172.1 L326.1,171.9 L328.8,171.6 L331.2,171.4 L333.3,171.2 L334.8,171.1 L335.9,171 L336.6,171 L337.3,170.9 L338.3,170.8 L339.4,170.5 L340.6,170.2 L342,170 L343.6,169.7 L345.3,169.5 L347.2,169.4 L349,169.3 L350.7,169.3 L352.3,169.4 L353.9,169.5 L355.3,169.7 L356.5,170 L357.6,170.2 L358.6,170.5 L359.6,170.8 L360.7,170.9 L361.9,171 L363.1,171 L364.7,171.1 L366.6,171.2 L368.8,171.5 L371.2,171.8 L373.9,172.1 L376.7,172.4 L379.7,172.7 L382.8,173 L385.6,173.3 L387.9,173.5 L389.9,173.6 L391.4,173.7 L393,173.3 L394.6,172.5 L396.1,171.2 L397.7,169.6 L399.1,168.3 L400.6,167.6 L401.9,167.3 L403.1,167.5 L404.4,167.7 L405.6,167.9 L406.9,168.1 L408.1,168.2 L409.4,168.4 L410.6,168.6 L411.9,168.9 L413.1,169.1 L414.4,169.4 L415.6,169.6 L416.9,169.9 L418.1,170.1 L419.4,170.4 L420.8,170.6 L422.2,170.8 L423.8,170.9 L425.2,171.1 L426.8,171.2 L428.2,171.3 L429.8,171.4 L431.4,171.5 L433.1,171.6 L435,171.7 L437,171.8 L438.9,172 L440.6,172.2 L442.2,172.4 L443.8,172.6 L445.1,172.8 L446.4,173 L447.5,173.2 L448.5,173.3 L449.6,173.4 L450.9,173.3 L452.2,173.2 L453.8,173.1 L455.2,172.9 L456.8,172.7 L458.2,172.4 L459.8,172.2 L461.4,172 L463.1,171.8 L465,171.6 L467,171.4 L469,171.2 L471,171 L473,170.8 L475,170.4 L476.8,170.1 L478.2,169.8 L479.5,169.4 L480.5,169.1 L481.6,168.8 L482.9,168.5 L484.2,168.3 L485.8,168.2 L487.2,168.1 L488.8,168.2 L490.2,168.3 L491.8,168.5 L493.4,168.7 L495.1,168.9 L497,169.2 L499,169.4 L501,169.6 L503,169.7 L505,169.7 L507,169.6 L508.9,169.5 L510.6,169.2 L512.2,168.9 L513.8,168.6 L515.1,168.2 L516.4,167.9 L517.5,167.6 L518.5,167.2 L518,167.2 L516,167.5 L512.5,168 L507.5,168.8 L504.5,169.3 L503.6,169.6 L504.7,169.7 L507.8,169.4 L510.8,169.1 L513.6,168.7 L516.2,168.2 L518.8,167.5 L521.2,166.9 L523.5,166.3 L525.8,165.7 L527.9,165 L530,164.5 L531.8,164 L533.6,163.7 L535.1,163.3 L536.7,163.2 L538.3,163.1 L539.9,163.1 L541.4,163.3 L543,163.4 L544.6,163.6 L546.1,163.7 L547.7,163.9 L549.2,163.9 L550.8,163.9 L552.3,163.8 L553.9,163.5 L555.4,163.4 L557,163.4 L558.6,163.4 L560.1,163.6 L561.8,163.6 L563.5,163.6 L565.3,163.5 L567.2,163.2 L568.9,163.1 L570.5,163.2 L571.9,163.3 L573.1,163.7 L574.5,163.9 L575.8,164.2 L577.3,164.4 L578.9,164.5 L580.4,164.6 L582,164.5 L583.6,164.3 L585.1,164 L586.7,163.9 L588.3,163.9 L589.9,164.2 L591.4,164.7 L593,165 L594.6,165 L596.1,164.9 L597.7,164.6 L598.8,164.4 L599.6,164.3 L600,164.2 L600,164.4 L600.2,164.7 L600.7,165.2 L601.4,166 L602.4,167 L603.2,167.9 L604,168.7 L604.7,169.4 L605.3,170.1 L605.6,170.5 L605.7,170.8 L605.5,171 L605.1,171 L604.6,171.5 L604.1,172.4 L603.6,173.8 L603,175.7 L602.7,177.4 L602.5,179.1 L602.5,180.6 L602.8,182 L603.1,183.2 L603.6,184.1 L604.3,184.7 L605,185.2 L606.2,185.4 L607.7,185.5 L609.5,185.4 L611.7,185.2 L613.9,184.9 L616.1,184.6 L618.3,184.3 L620.5,184 L622.7,183.7 L624.9,183.5 L627.1,183.3 L629.2,183.1 L631.5,182.9 L633.8,182.7 L636.2,182.4 L638.8,182.1 L641.2,181.8 L643.8,181.5 L646.2,181.2 L648.8,180.8 L651.2,180.5 L653.5,180.2 L655.8,179.9 L657.9,179.6 L660.7,179.3 L664.2,179.1 L668.2,178.9 L673,178.7 L677.1,178.7 L680.7,178.7 L683.8,178.7 L686.2,178.9 L688.9,179 L691.7,179.1 L694.7,179.1 L697.8,179.1 L701.3,179.1 L705.1,179.1 L709.2,179.1 L713.8,179.1 L717.1,179.1 L719.4,179.1 L720.5,179.1 L722,179.1 L722,300.8 L720.5,300.8 L719.8,300.8 L718.5,300.8 L716.6,300.9 L713.9,300.9 L711.3,301 L708.8,301.2 L706.2,301.5 L703.8,301.8 L701.2,302.1 L698.8,302.4 L696.2,302.8 L693.8,303.2 L691.2,303.5 L688.8,303.8 L686.2,303.9 L683.8,304 L681.6,304 L679.7,304 L678.1,304 L676.9,303.9 L675.6,303.9 L674.4,303.9 L673.1,304 L671.9,304.2 L670.6,304.4 L669.4,304.7 L668.1,305.1 L666.9,305.5 L665.5,305.9 L663.9,306.2 L662.2,306.5 L660.3,306.6 L658.5,306.6 L656.8,306.4 L655.1,306 L653.6,305.4 L652.1,304.7 L650.7,304 L649.3,303.2 L648.1,302.3 L646.8,301.4 L645.6,300.5 L644.3,299.6 L643.1,298.6 L641.8,297.8 L640.4,297.2 L638.9,296.7 L637.3,296.3 L635.7,296.1 L634,296.1 L632.2,296.2 L630.3,296.5 L628.4,296.9 L626.6,297.4 L624.7,297.9 L622.8,298.6 L621,299.1 L619.3,299.7 L617.7,300.1 L616.1,300.6 L614.6,300.8 L613.2,300.9 L611.9,300.9 L610.7,300.7 L609.3,300.4 L607.9,300.1 L606.4,299.7 L604.9,299.2 L603.2,298.7 L601.5,298.1 L599.7,297.6 L597.8,296.9 L595.9,296.4 L594.1,295.8 L592.2,295.3 L590.3,294.8 L588.4,294.5 L586.6,294.2 L584.7,294.1 L582.8,294.1 L580.6,294.1 L578.1,294.2 L575.3,294.4 L572.2,294.5 L569.1,294.7 L565.9,295 L562.8,295.2 L559.7,295.5 L556.6,295.8 L553.4,296.2 L550.3,296.5 L547.2,296.8 L544.1,297.1 L540.9,297.5 L537.8,297.9 L534.7,298.4 L531.6,298.9 L528.4,299.3 L525.3,299.8 L522.2,300.3 L519.1,300.7 L515.9,301.1 L512.8,301.5 L509.7,301.8 L506.6,302.1 L503.4,302.4 L500.3,302.7 L497.2,303 L494.1,303.4 L490.9,303.7 L487.8,304.1 L484.7,304.4 L482.3,304.7 L480.8,304.9 L480,304.9 L480,304.9 L479.4,304.9 L478.1,305 L476.2,305.2 L473.8,305.5 L471.3,305.8 L469,306 L466.7,306.2 L464.5,306.4 L462.3,306.5 L460.1,306.5 L457.9,306.4 L455.8,306.3 L453.8,306.2 L452.1,306 L450.6,305.7 L449.4,305.3 L448.3,304.9 L447.3,304.3 L446.6,303.6 L445.9,302.8 L445.2,302.1 L444.4,301.5 L443.6,300.9 L442.6,300.5 L441.7,300 L440.7,299.4 L439.8,298.8 L438.9,298.2 L437.7,297.6 L436.3,297.1 L434.7,296.8 L432.8,296.5 L430.6,296.2 L428.1,296.1 L425.3,296 L422.2,296 L419.1,296.1 L415.9,296.4 L412.8,296.7 L409.7,297.2 L406.6,297.7 L403.4,298.1 L400.3,298.6 L397.2,299.1 L394.1,299.6 L390.9,300 L387.8,300.5 L384.7,300.9 L381.2,301.3 L377.3,301.7 L373,302.1 L368.2,302.4 L363.9,302.7 L360,303 L356.6,303.2 L353.4,303.5 L350.3,303.7 L347.2,303.9 L344.1,304.2 L340.9,304.4 L338,304.7 L335.4,304.9 L332.9,305 L330.8,305.2 L328.5,305.2 L326.2,305.2 L323.8,305.2 L321.2,305 L319,304.9 L316.9,304.9 L315.1,304.9 L313.6,304.9 L311.9,305.1 L310.1,305.4 L308.2,305.8 L306.1,306.4 L304.4,306.9 L302.8,307.3 L301.5,307.7 L300.4,308 L299.3,308.2 L298.1,308.3 L296.9,308.3 L295.7,308.1 L294.5,307.8 L293.3,307.4 L292.2,306.7 L291.1,306 L290.1,305.1 L289.3,304.3 L288.7,303.4 L288.2,302.4 L287.8,301.4 L287.5,300.3 L287.3,299.1 L287.1,297.9 L287,296.6 L287,295.1 L287.1,293.7 L287.3,292.1 L287.4,290.7 L287.5,289.2 L287.6,287.9 L287.7,286.7 L287.6,285.5 L287.5,284.5 L287.2,283.6 L286.8,282.8 L286.4,282.2 L286.1,281.9 L285.8,281.7 L285.5,281.8 L284.9,281.9 L284.1,282.1 L283.1,282.3 L281.9,282.5 L280.7,282.9 L279.6,283.4 L278.6,284.1 L277.6,284.8 L276.8,285.7 L276,286.5 L275.3,287.4 L274.7,288.4 L273.9,289.3 L272.8,290.3 L271.4,291.2 L269.9,292.1 L268.2,293 L266.5,293.7 L264.7,294.4 L262.8,295.1 L260.8,295.7 L258.6,296.3 L256.2,296.9 L253.8,297.6 L251.1,298.1 L248.3,298.7 L245.3,299.2 L242.2,299.7 L239.1,300.1 L235.9,300.4 L232.8,300.7 L229.7,300.9 L226.6,301.1 L223.4,301.2 L220.3,301.3 L217.2,301.4 L214.1,301.5 L210.9,301.6 L207.8,301.6 L204.7,301.6 L201.6,301.6 L198.4,301.5 L195.3,301.4 L192.2,301.3 L189.1,301.3 L185.9,301.2 L182.8,301.1 L179.7,301.1 L176.6,301 L173.4,301 L170.3,300.9 L167.2,300.9 L164.1,300.8 L160.9,300.7 L157.8,300.7 L154.7,300.6 L151.6,300.5 L148.4,300.4 L145.3,300.4 L142.2,300.4 L139.1,300.4 L135.9,300.5 L132.8,300.6 L129.7,300.7 L126.6,300.7 L123.4,300.8 L120.3,300.9 L117.2,300.9 L114.1,301 L110.9,301.1 L107.8,301.2 L104.7,301.4 L102.3,301.5 L100.8,301.6 L100,301.6 L99,301.6Z" fill="#d7301f"/>
<path d="M99,200.8 L100,200.8 L100.8,200.9 L102.3,201 L104.7,201.1 L107.8,201.3 L110.9,201.6 L114.1,201.9 L117.2,202.3 L120.3,202.8 L123.3,203.3 L126.1,204 L128.8,204.7 L131.2,205.4 L133.7,206.2 L136,207 L138.3,207.8 L140.5,208.6 L142.7,209.4 L144.9,210.1 L147.1,210.7 L149.2,211.3 L151.5,211.9 L153.8,212.4 L156.2,212.9 L158.8,213.4 L161.4,213.8 L164.2,214.1 L167.2,214.4 L170.3,214.5 L173.4,214.6 L176.6,214.6 L179.7,214.5 L182.8,214.4 L185.9,214.2 L189.1,214 L192.2,213.9 L195.3,213.7 L197.7,213.6 L199.2,213.5 L200,213.5 L200,213.5 L200.5,213.4 L201.4,213.1 L202.8,212.8 L204.7,212.3 L206.6,211.8 L208.4,211.4 L210.3,210.9 L212.2,210.5 L214,210.1 L215.7,209.7 L217.3,209.3 L218.9,209 L220.2,208.6 L221.3,208.1 L222.2,207.6 L222.8,206.9 L223.3,206.2 L223.5,205.4 L223.5,204.6 L223.4,203.6 L223,202.5 L222.6,201.3 L221.9,199.9 L221.2,198.3 L220.3,196.8 L219.3,195.2 L218.1,193.7 L216.9,192.1 L215.7,190.7 L214.6,189.3 L213.6,187.9 L212.6,186.7 L211.9,185.5 L211.3,184.4 L211,183.4 L210.8,182.4 L211,181.6 L211.5,181 L212.2,180.4 L213.4,180.1 L214.8,179.8 L216.6,179.5 L218.8,179.4 L221.2,179.2 L223.5,179.2 L225.5,179.3 L227.3,179.4 L228.9,179.5 L230.3,179.8 L231.5,180.2 L232.6,180.7 L233.6,181.3 L234.4,182 L235.2,182.8 L235.9,183.6 L236.6,184.6 L237.2,185.6 L237.8,186.7 L238.4,187.9 L239.1,189.1 L239.7,190.3 L240.3,191.5 L240.9,192.6 L241.6,193.8 L242.3,194.7 L243.3,195.4 L244.4,195.8 L245.6,196.2 L247.1,196.3 L248.8,196.4 L250.8,196.4 L252.9,196.2 L255.4,196.1 L258,195.9 L260.9,195.8 L264.1,195.6 L267,195.5 L269.6,195.4 L272.1,195.4 L274.2,195.4 L276.5,195.4 L278.8,195.5 L281.2,195.6 L283.8,195.8 L286.4,196 L289.2,196.3 L292.2,196.7 L295.3,197.2 L297.7,197.5 L299.2,197.8 L300,197.9 L300,197.9 L300.5,198 L301.4,198.1 L302.8,198.3 L304.7,198.7 L306.6,199 L308.4,199.5 L310.3,200 L312.2,200.7 L314.2,201.4 L316.4,202.3 L318.8,203.2 L321.2,204.4 L323.8,205.5 L326.2,206.7 L328.8,207.9 L331.2,209.1 L333.7,210.3 L336,211.4 L338.3,212.4 L340.5,213.4 L342.7,214.2 L344.9,214.9 L347.1,215.5 L349.2,215.9 L351.5,216.3 L353.8,216.7 L356.2,217.1 L358.8,217.4 L361.1,217.7 L363.3,217.8 L365.3,217.9 L367.2,217.9 L368.9,217.7 L370.5,217.3 L371.9,216.7 L373.1,216 L374.3,215 L375.3,213.8 L376.2,212.4 L376.9,210.9 L377.6,209.4 L378.3,208 L378.8,206.6 L379.3,205.4 L379.8,204.1 L380.5,202.9 L381.2,201.6 L381.9,200.4 L382.8,199.1 L383.7,197.9 L384.8,196.6 L385.8,195.4 L387,194.1 L388.2,192.9 L389.4,191.6 L390.6,190.4 L391.8,189.2 L392.9,188.1 L393.9,187.1 L394.8,186.2 L395.7,185.4 L396.7,184.7 L397.6,184.1 L398.6,183.6 L399.3,183.1 L399.8,182.5 L400,181.8 L400,181.1 L400.3,180.7 L400.9,180.6 L401.9,180.8 L403.1,181.2 L404.4,181.7 L405.6,182.1 L406.9,182.4 L408.1,182.6 L409.7,182.9 L411.6,183.1 L413.8,183.4 L416.2,183.6 L418.5,183.9 L420.5,184.3 L422.2,184.8 L423.8,185.2 L425.2,185.8 L426.8,186.3 L428.2,186.9 L429.8,187.6 L431.4,188.2 L433.1,188.8 L435,189.4 L437,190.1 L439,190.6 L441,191.1 L443,191.6 L445,191.9 L447,192.2 L449,192.5 L451,192.7 L453,192.8 L454.9,192.8 L456.6,192.8 L458.2,192.6 L459.8,192.4 L461.2,192 L462.8,191.6 L464.2,191.1 L465.8,190.4 L467.2,189.8 L468.8,189.1 L470.2,188.4 L471.8,187.6 L473.2,186.8 L474.8,186 L476.2,185.2 L477.8,184.3 L478.9,183.5 L479.6,182.7 L480,182 L480,181.4 L480.5,180.9 L481.4,180.7 L482.8,180.6 L484.7,180.8 L486.6,181 L488.4,181.3 L490.3,181.7 L492.2,182.2 L494,182.6 L495.7,183 L497.3,183.3 L498.9,183.7 L500.3,183.7 L501.5,183.4 L502.6,182.9 L503.6,182.2 L504.5,181.5 L505.5,181.1 L506.4,180.8 L507.4,180.6 L508.5,180.6 L509.7,180.8 L511.1,181.1 L512.7,181.5 L514.2,181.9 L515.8,182.3 L517.3,182.7 L518.9,183 L520.4,183.2 L522,183.3 L523.6,183.3 L525.1,183.1 L526.6,183 L528,182.8 L529.4,182.6 L530.6,182.5 L532,182.4 L533.4,182.6 L534.9,182.9 L536.4,183.4 L538,183.9 L539.6,184.4 L541.1,185 L542.7,185.7 L544.2,186 L545.5,186.1 L546.9,185.9 L548.1,185.5 L549.4,184.9 L550.6,184.3 L551.9,183.6 L553.1,182.8 L554.4,182.1 L555.6,181.6 L556.9,181.2 L558.1,180.8 L559.5,180.7 L561.1,180.6 L562.8,180.6 L564.7,180.8 L566.6,180.8 L568.4,180.8 L570.3,180.8 L572.2,180.6 L573.9,180.5 L575.5,180.4 L576.9,180.3 L578.1,180.1 L579.1,180.1 L579.7,180.1 L580,180.1 L580,180.3 L580.2,180.5 L580.7,181 L581.4,181.6 L582.4,182.3 L583.3,183.2 L584.3,184.2 L585.2,185.4 L586.1,186.6 L587,187.9 L587.7,189.1 L588.4,190.4 L589.1,191.6 L589.6,192.9 L590,194.1 L590.2,195.4 L590.4,196.6 L590.6,197.8 L590.9,199 L591.3,200.1 L591.8,201.3 L592.5,202.1 L593.3,202.8 L594.4,203.2 L595.6,203.5 L597,203.6 L598.6,203.6 L600.3,203.5 L602.2,203.2 L604.1,203 L605.9,202.7 L607.8,202.4 L609.7,202.1 L611.6,201.7 L613.7,201.4 L615.8,201 L617.9,200.6 L620.1,200.2 L622.3,199.9 L624.5,199.5 L626.7,199.2 L629.1,198.9 L631.8,198.6 L634.7,198.3 L637.8,198 L640.9,197.7 L644.1,197.5 L647.2,197.3 L650.3,197.2 L653.4,197.1 L656.6,197 L659.7,196.9 L662.8,196.9 L665.9,196.8 L669.1,196.8 L672.2,196.7 L675.3,196.7 L678.3,196.7 L681.1,196.9 L683.8,197.1 L686.2,197.4 L688.9,197.7 L691.7,198 L694.7,198.3 L697.8,198.7 L700.8,199 L703.6,199.3 L706.2,199.6 L708.8,199.9 L711.1,200.2 L713.4,200.4 L715.5,200.6 L717.5,200.8 L719,200.9 L720,201 L720.5,201 L722,201 L722,277.9 L720.5,277.9 L720.2,277.9 L719.5,277.8 L718.4,277.8 L717.1,277.6 L715.2,277.5 L713,277.4 L710.3,277.2 L707.2,276.9 L704.1,276.7 L700.9,276.5 L697.8,276.3 L694.7,276.1 L691.7,275.9 L688.9,275.8 L686.2,275.7 L683.8,275.6 L681.5,275.5 L679.5,275.5 L677.7,275.6 L676.1,275.7 L674.6,275.8 L673.2,275.9 L671.9,276.1 L670.7,276.3 L669.6,276.6 L668.6,277 L667.8,277.5 L667.2,278.2 L666.5,278.8 L665.7,279.5 L664.8,280.3 L663.9,281 L662.9,281.8 L661.8,282.6 L660.6,283.4 L659.4,284.2 L658,284.9 L656.6,285.5 L655.1,286.1 L653.6,286.5 L651.8,286.9 L650,287.2 L647.9,287.5 L645.8,287.6 L643.3,287.7 L640.7,287.7 L637.8,287.6 L634.7,287.5 L631.6,287.4 L628.4,287.4 L625.3,287.5 L622.2,287.6 L619.3,287.8 L616.8,287.9 L614.5,287.9 L612.4,287.9 L610.8,287.6 L609.4,287.1 L608.5,286.2 L607.8,285.1 L607.3,284.1 L606.8,283.1 L606.4,282.1 L606.1,281.2 L605.7,280.3 L605.1,279.3 L604.4,278.4 L603.7,277.4 L602.6,276.5 L601.3,275.7 L599.7,274.8 L597.8,274.1 L595.9,273.4 L594.1,272.8 L592.2,272.3 L590.3,271.8 L588.4,271.5 L586.6,271.4 L584.7,271.3 L582.8,271.4 L580.6,271.5 L578.1,271.5 L575.3,271.4 L572.2,271.2 L569.1,271.1 L565.9,271 L562.8,271 L559.7,271 L556.6,271 L553.4,271.1 L550.3,271.2 L547.2,271.4 L544.1,271.5 L540.9,271.7 L537.8,271.9 L534.7,272.2 L531.6,272.4 L528.4,272.7 L525.3,273.1 L522.2,273.5 L519.2,273.9 L516.4,274.3 L513.8,274.7 L511.2,275.2 L508.9,275.4 L506.7,275.5 L504.7,275.5 L502.8,275.3 L501,275.2 L499.3,275.3 L497.7,275.6 L496.1,276 L494.7,276.5 L493.5,277.1 L492.4,277.8 L491.4,278.6 L490.4,279.4 L489.3,280.1 L488.1,280.7 L486.9,281.3 L485.6,281.7 L484.4,281.9 L483.1,281.8 L481.9,281.6 L480.7,281.3 L479.6,281 L478.6,280.7 L477.6,280.3 L476.6,280 L475.5,279.6 L474.3,279.2 L473.1,278.8 L471.9,278.6 L470.9,278.6 L470,278.8 L469.3,279.2 L468.5,279.7 L467.7,280.4 L466.9,281.2 L466.2,282.1 L465.3,283 L464.5,284 L463.6,284.9 L462.6,285.8 L461.6,286.7 L460.5,287.7 L459.3,288.6 L458.1,289.6 L456.8,290.4 L455.3,291 L453.9,291.6 L452.3,291.9 L450.7,292.2 L449,292.5 L447.2,292.6 L445.3,292.8 L443.8,292.6 L442.6,292.3 L441.8,291.7 L441.3,291 L440.8,290.1 L440.2,289.1 L439.6,287.9 L438.9,286.7 L438.1,285.3 L437.5,283.9 L436.8,282.4 L436,280.9 L435.4,279.2 L434.7,277.5 L434.1,275.7 L433.4,273.8 L432.9,272 L432.5,270.3 L432.1,268.7 L431.9,267.1 L431.7,265.4 L431.5,263.5 L431.4,261.5 L431.3,259.3 L431.1,257.4 L430.9,255.7 L430.5,254.4 L430.1,253.2 L429.6,252.3 L429,251.6 L428.5,251.2 L427.8,250.8 L427.1,250.8 L426.2,250.9 L425.2,251.2 L424.2,251.7 L422.9,252 L421.4,252.1 L419.7,252 L417.8,251.7 L415.8,251.4 L413.6,251.2 L411.2,251.1 L408.8,251.1 L406.2,251.1 L403.8,251.3 L401.2,251.6 L398.8,251.9 L396.4,252.4 L394.2,252.9 L392.2,253.4 L390.3,254.1 L388.4,254.7 L386.6,255.4 L384.7,256.1 L382.8,256.8 L381,257.5 L379.3,258.2 L377.7,258.8 L376.1,259.5 L374.6,260.2 L373,260.9 L371.4,261.8 L369.9,262.7 L368.3,263.7 L366.7,264.7 L365.1,265.8 L363.6,266.9 L362,267.9 L360.4,268.9 L358.9,269.9 L357.3,270.8 L355.9,271.6 L354.7,272.3 L353.6,272.8 L352.6,273.2 L351.6,273.4 L350.5,273.5 L349.3,273.5 L348.1,273.2 L346.9,273.1 L345.8,273.2 L344.8,273.3 L343.9,273.7 L343,274.1 L342,274.6 L341.1,275.3 L340.2,276 L339.2,276.7 L338.1,277.4 L336.9,277.9 L335.7,278.4 L334.3,278.9 L332.9,279.3 L331.4,279.7 L329.9,280.2 L328.2,280.6 L326.5,281.1 L324.7,281.7 L322.8,282.3 L320.9,282.9 L319.1,283.5 L317.2,284 L315.3,284.6 L313.4,285 L311.6,285.3 L309.7,285.6 L307.8,285.7 L306.2,285.7 L304.9,285.8 L303.8,285.8 L303.1,285.8 L302.4,285.9 L301.7,286.1 L301.2,286.3 L300.7,286.7 L300.2,287.3 L299.5,288.3 L298.8,289.6 L298.1,291.1 L297.2,292.5 L296.4,293.6 L295.5,294.4 L294.5,295.1 L293.7,295.3 L292.9,295.3 L292.2,294.8 L291.5,294.1 L291,293.2 L290.7,292.3 L290.4,291.2 L290.3,290.1 L290.3,288.9 L290.2,287.6 L290.2,286.1 L290.2,284.6 L290.1,283 L290.1,281.3 L289.9,279.6 L289.7,277.9 L289.3,276.4 L288.8,274.9 L288.2,273.5 L287.4,272.3 L286.4,271 L285.1,269.7 L283.6,268.3 L281.9,266.9 L280.4,265.4 L279.1,263.9 L278,262.2 L277,260.5 L276.1,258.8 L275.3,257.3 L274.4,255.8 L273.7,254.3 L273,253 L272.3,251.6 L271.8,250.3 L271.3,249.1 L271,248.1 L271,247.3 L271.1,246.8 L271.4,246.5 L271.5,246 L271.5,245.4 L271.2,244.6 L270.7,243.6 L269.9,242.8 L268.7,242 L267.2,241.3 L265.3,240.7 L263.1,240.2 L260.6,239.8 L257.8,239.5 L254.7,239.4 L251.6,239.3 L248.4,239.2 L245.3,239.2 L242.2,239.4 L239.5,239.5 L237.3,239.6 L235.6,239.8 L234.4,240.1 L233.2,240.4 L232.1,240.8 L231.1,241.3 L230.2,242 L229.7,242.7 L229.8,243.4 L230.3,244.3 L231.3,245.2 L232,246.1 L232.2,247 L232.2,247.8 L231.8,248.6 L231.2,249.4 L230.4,250.3 L229.3,251.2 L228.1,252.1 L226.7,253 L225.1,254 L223.4,254.9 L221.6,255.8 L219.7,256.8 L217.8,257.8 L215.9,258.8 L214.1,259.9 L212.2,261.1 L210.5,262.3 L208.9,263.5 L207.3,264.7 L205.9,265.9 L204.4,267.1 L203.1,268.2 L201.9,269.4 L200.9,270.2 L200.3,270.8 L200,271.2 L200,271.4 L199.5,271.7 L198.6,272.2 L197.2,272.8 L195.3,273.6 L193.4,274.4 L191.6,275.1 L189.7,275.7 L187.8,276.3 L185.8,276.9 L183.6,277.4 L181.2,277.9 L178.8,278.4 L176.1,278.8 L173.3,279.1 L170.3,279.4 L167.2,279.5 L164.1,279.6 L160.9,279.7 L157.8,279.7 L154.7,279.6 L151.6,279.5 L148.4,279.4 L145.3,279.4 L142.2,279.2 L139.1,279.2 L135.9,279.1 L132.8,279 L129.7,278.9 L126.6,278.8 L123.4,278.8 L120.3,278.7 L117.2,278.6 L114.1,278.5 L110.9,278.4 L107.8,278.3 L104.7,278.1 L102.3,278 L100.8,277.9 L100,277.9 L99,277.9Z" fill="#b30000"/>
<path d="M330.2,123.2 L331.7,122.5 L333.2,122 L334.8,121.4 L336.6,120.9 L338.4,120.5 L340.4,120 L342.4,119.4 L344.5,118.8 L346.7,118.2 L348.7,117.7 L350.6,117.4 L352.3,117.3 L353.9,117.4 L355.2,117.5 L356.3,117.8 L357.2,118.1 L357.8,118.5 L358.1,119 L357.9,119.5 L357.4,120 L356.4,120.7 L355.2,121.3 L353.8,121.9 L352.2,122.5 L350.3,123.2 L348.4,123.8 L346.6,124.5 L344.7,125.3 L342.8,126 L341.1,126.9 L339.5,127.7 L338.1,128.6 L336.9,129.6 L335.8,130.4 L334.8,131 L334.1,131.4 L333.4,131.8 L332.8,131.8 L332.1,131.5 L331.3,131 L330.6,130.3 L329.9,129.5 L329.3,128.7 L328.9,127.9 L328.6,127.2 L328.3,126.5 L328.2,125.8 L328.1,125.3 L328.1,124.8 L328.5,124.3 L329.2,123.7Z" fill="#fc8d59"/>
<path d="M631,132.5 L632.1,132.2 L633.3,132 L634.6,132 L635.9,132.2 L637.3,132.5 L638,132.9 L638.1,133.3 L637.5,133.7 L636.3,134.2 L635,134.4 L633.8,134.4 L632.5,134.2 L631.3,133.7 L630.6,133.3 L630.5,132.9Z" fill="#fdd49e"/>
<path d="M686.2,128.7 L686.9,128.3 L687.7,128.2 L688.5,128.2 L689.3,128.3 L690,128.7 L690.4,129 L690.4,129.3 L690,129.6 L689.3,129.9 L688.5,130.1 L687.7,130.1 L686.9,129.9 L686.2,129.6 L685.8,129.3 L685.8,129Z" fill="#fdbb84"/>
<path d="M388.6,209.2 L388.9,208.4 L389.3,207.6 L389.9,206.9 L390.6,206.3 L391.3,205.7 L392.3,205.1 L393.5,204.5 L394.9,203.8 L396.4,203.2 L398,202.6 L399.6,202.1 L401.1,201.7 L402.7,201.3 L404.2,201 L405.8,200.7 L407.3,200.5 L408.9,200.3 L410.4,200.2 L412,200.4 L413.6,200.6 L415.1,201 L416.6,201.5 L418,202 L419.4,202.5 L420.6,203.2 L422,203.8 L423.6,204.3 L425.3,204.8 L427.2,205.3 L429,205.8 L430.7,206.2 L432.3,206.7 L433.9,207.2 L435.4,207.7 L437,208.1 L438.6,208.6 L440.1,209.1 L441.5,209.6 L442.6,210.1 L443.4,210.7 L444.1,211.3 L444.5,211.9 L444.6,212.6 L444.5,213.4 L444.3,214.2 L443.7,215 L442.9,215.7 L441.9,216.3 L440.7,217 L439.5,217.5 L438.4,217.8 L437.4,218 L436.4,218.1 L435.4,218 L434.3,217.9 L433.1,217.6 L431.9,217.2 L430.6,216.8 L429.1,216.5 L427.7,216.2 L426.1,215.8 L424.6,215.6 L423,215.5 L421.4,215.4 L419.9,215.4 L418.3,215.4 L416.7,215.5 L415.1,215.6 L413.6,215.8 L412,215.9 L410.4,216.1 L408.9,216.2 L407.3,216.4 L405.8,216.5 L404.2,216.6 L402.7,216.7 L401.1,216.9 L399.6,216.9 L398,216.9 L396.4,216.9 L394.9,216.7 L393.5,216.5 L392.3,216.2 L391.3,215.7 L390.6,215 L389.9,214.3 L389.3,213.6 L388.9,212.7 L388.6,211.8 L388.4,210.9 L388.4,210Z" fill="#7f0000"/>
<path d="M546.4,176.3 L547.4,176.1 L548.4,176 L549.4,176 L550.4,176.1 L551.5,176.3 L552,176.5 L552,176.7 L551.5,176.9 L550.4,177.2 L549.4,177.3 L548.4,177.3 L547.4,177.2 L546.4,176.9 L546,176.7 L546,176.5Z" fill="#b30000"/>
<path d="M571.7,193.1 L572.8,192.9 L573.8,192.8 L575,192.8 L576,192.9 L577.1,193.1 L577.7,193.4 L577.7,193.6 L577.1,193.9 L576,194.1 L575,194.2 L573.8,194.2 L572.8,194.1 L571.7,193.9 L571.1,193.6 L571.1,193.4Z" fill="#d7301f"/>
<path d="M483.6,203.6 L485.1,203.7 L486.8,203.8 L488.5,204 L490.3,204.2 L492.2,204.4 L493.9,204.7 L495.6,205 L497.1,205.2 L498.5,205.5 L499.5,205.9 L500.1,206.2 L500.4,206.6 L500.2,206.9 L499.7,207.3 L498.9,207.6 L497.7,207.9 L496.1,208.1 L494.7,208.5 L493.2,208.9 L491.9,209.4 L490.7,210.1 L489.6,210.5 L488.8,210.9 L488.1,211.1 L487.6,211.1 L487.1,211 L486.4,210.6 L485.7,210 L485,209.1 L484.2,208.4 L483.5,207.6 L482.8,207 L482.2,206.3 L481.7,205.8 L481.4,205.2 L481.2,204.7 L481.2,204.2 L481.6,203.9 L482.4,203.7Z" fill="#7f0000"/>
<path d="M433.5,288.5 L434.3,288.8 L435,289 L435.5,289.2 L435.8,289.4 L436,289.7 L435.9,289.8 L435.6,289.9 L435,289.8 L434.3,289.7 L433.6,289.5 L433.1,289.3 L432.8,289 L432.5,288.7 L432.6,288.5 L432.9,288.4Z" fill="#ef6548"/>
<path d="M104.7,371.8 L107.8,372.4 L110.9,372.9 L114.1,373.5 L117.2,374.2 L120.3,374.8 L123.1,375.5 L125.6,376.3 L127.8,377 L129.7,377.9 L131.5,378.7 L133.2,379.6 L134.9,380.5 L136.4,381.5 L137.8,382.3 L139,383.1 L140,383.8 L140.7,384.5 L141,385 L140.9,385.5 L140.2,386 L139.1,386.4 L137.5,386.7 L135.4,386.8 L132.8,386.7 L129.7,386.5 L126.6,386.3 L123.4,386 L120.3,385.7 L117.2,385.5 L114.1,385.3 L110.9,385.3 L107.8,385.4 L104.7,385.6 L102.3,384.9 L100.8,383.1 L100,380.4 L100,376.6 L100.8,373.9 L102.3,372.4Z" fill="#fee8c8"/>
<path d="M287.8,375.3 L289.7,374.8 L291.6,374.4 L293.4,374 L295.3,373.6 L297.2,373.4 L298.6,373.6 L299.5,374.3 L300,375.5 L300,377.2 L299.5,378.5 L298.6,379.2 L297.2,379.5 L295.3,379.4 L293.5,379.2 L291.8,378.9 L290.1,378.6 L288.6,378.4 L287.3,378 L286.4,377.6 L285.8,377.2 L285.5,376.7 L285.7,376.2 L286.5,375.8Z" fill="#fff7ec"/>
<path d="M262.6,389.9 L265.1,389.6 L267.7,389.3 L270.5,389.1 L273.4,388.9 L276.6,388.7 L280,388.6 L283.9,388.4 L288.2,388.3 L293,388.1 L296.5,388.2 L298.8,388.5 L300,389.1 L300,389.8 L298.8,390.4 L296.5,390.8 L293,391.1 L288.2,391.1 L283.9,391.2 L280,391.3 L276.6,391.3 L273.4,391.5 L270.5,391.5 L267.7,391.4 L265.1,391.1 L262.6,390.9 L261.3,390.5 L261.3,390.2Z" fill="#fdd49e"/>
<path d="M301.9,373.1 L303.1,373.3 L304.1,373.7 L304.8,374.3 L305.2,375.2 L305.4,376.2 L305.1,377.2 L304.5,378 L303.5,378.6 L302.1,379.1 L301,379 L300.4,378.4 L300,377.2 L300,375.5 L300.3,374.2 L300.9,373.4Z" fill="#fff7ec"/>
<path d="M669.9,382.1 L672,381.6 L674.1,381.1 L676.4,380.7 L678.8,380.4 L681.2,380.2 L683.8,380.1 L686.2,380.2 L688.8,380.5 L691.2,380.9 L693.4,381.3 L695.3,381.7 L696.9,382.1 L698.1,382.4 L700.3,382.8 L703.5,383.4 L707.7,384.1 L712.8,384.8 L716.7,385.7 L719.2,386.8 L720.5,388 L720.5,389.2 L719.2,390.2 L716.7,390.7 L712.8,390.9 L707.7,390.7 L703.2,390.5 L699.4,390.2 L696.2,389.9 L693.8,389.6 L691.2,389.2 L688.8,388.8 L686.2,388.3 L683.8,387.8 L681.3,387.3 L679,386.7 L676.7,386.2 L674.5,385.6 L672.6,385.1 L670.9,384.6 L669.6,384.1 L668.5,383.6 L668.2,383.1 L668.7,382.6Z" fill="#fdd49e"/>
<path d="M617.8,377.3 L619.7,376.6 L621.5,376.2 L623.2,376.1 L624.9,376.4 L626.4,377.1 L627.1,377.8 L627,378.5 L625.9,379.2 L624.1,379.8 L622.2,380.2 L620.5,380.2 L618.9,379.9 L617.3,379.4 L616.6,378.7 L616.8,378.1Z" fill="#fff7ec"/>
<g fill="none" stroke="#000" stroke-width="1.5" stroke-linejoin="round" stroke-linecap="round">
<path d="M100,118.5 L104.4,118.5 M100,122.9 L107.5,125.4 L112.5,126 L116.9,127.2 L113.8,128.8 L107.5,127.9 L103.8,128.8 L100,128.8 M113.8,131.6 L119.4,132.2 M200,119.8 L192.5,119.8 L187.5,120.4 L175,122.2 L170,121 L162.5,120.4 L150,119.1 L140,118.2 L132.5,119.1 L126.2,121 L123.1,122.5 L126.9,124.1 L131.2,126 L125,126.6 L121.2,127.9 L126.2,129.1 L132.5,129.5 L131.9,131.6 L126.9,132.2 L125,134.8 L122.5,136.6 L125,137.9 L131.2,139.1 L136.2,140.4 L138.8,140 L135,142.9 L130,144.8 L125.6,147 L131.2,145.4 L137.5,143.5 L142.5,142.2 L146.2,142.5 L147.5,139.8 L145,137.9 L150,136 L155,136.2 L160,136.6 L167.5,137.9 L175,139.8 L180,142.2 L183.8,146 L187.5,149.8 L191.2,153.5 L195,155.4 L196.9,158.5 L196.2,164.8 L195.6,171 M181.2,147.9 L183.1,151 M188.8,153.5 L193.8,154.8 L198.8,158.5 L195,157.2 L190,155.4Z M200,120 L206.2,121 L212.5,122.9 L225,123.8 L237.5,124.2 L247.5,122.9 L255,121 L258.8,117.2 L255,114.8 L260,113.5 L265,116 L267.5,121 L270,124.8 L265,127.2 L261.2,129.8 L256.2,131.6 L250,133.5 L246.9,137.2 L250,141 L256.2,142.9 L262.5,144.1 L267.5,146 L270,149.8 L272.5,151.6 L275,149.8 L273.8,146 L277.5,143.5 L278.1,138.5 L276.9,134.8 M300,100.4 L307.5,99.1 L318.8,99.5 L330,98.8 L333.8,99.8 L330,100.4 L337.5,98.5 L345,97.2 L356.2,97 L365,97.2 L375,98.2 L380,99.8 L387.5,100.4 L388.8,101.2 L381.2,102 L376.2,102.9 L378.1,105.4 L373.8,107.9 L376.2,109.8 L373.8,112.2 L375,114.8 L370,116.6 L368.1,119.1 L365,120.4 L360,121.6 L355,122.9 L350,124.8 L345,126.6 L340,129.1 L336.9,132.2 L335.6,136 L333.8,137 L330,136.2 L325,134.1 L321.2,129.8 L318.8,126 L317.5,122.9 L321.2,121 L320,118.5 L316.2,119.1 L315,116.6 L311.2,112.9 L307.5,110.4 L302.5,109.1 L300,108.5 M368.8,127.2 L372.5,126.6 L377.5,127.2 L382.5,126.2 L386.2,127.9 L385,129.8 L380,131 L373.8,131.6 L370,129.8Z M428.1,103.8 L432.5,102.9 L441.2,102 L450,101.6 L456.9,102.5 L455,104.1 L450,105 L451.9,107 L446.2,107.2 L443.8,106 L440,108.5 L436.2,108.2 L432.5,106 L429.4,105Z M487.5,101.6 L498.8,101.2 L497.5,102.5 L492.5,102.9 L488.1,102.2Z M500,122.9 L495,124.1 L490,126 L487.5,122.9 L485,122.9 L486.2,126.6 L481.2,126 L480,129.1 L475,129.8 L472.5,131 L470,127.9 L467.5,126 L475,125.4 L481.2,125 L480,122.9 L475,121.6 L467.5,120.4 L462.5,119.8 L458.8,118.5 L452.5,118.2 L446.2,119.8 L440,122.2 L433.8,125.4 L428.8,129.1 L423.8,131.6 L418.8,133.5 L418.8,137.2 L420.6,139.8 L425,140.4 L426.9,142.5 L430,141.6 L431.9,144.1 L435,145.4 L437.5,143.5 L440,139.8 L439.4,136 L442.5,133.5 L445.6,131.6 L447.5,128.5 L452.5,127.2 L453.8,129.1 L449.4,131.6 L447.5,134.1 L450,136.6 L455,137.2 L460,136.6 L459.4,137.9 L453.8,138.5 L451.2,139.1 L451.9,142.2 L449.4,142.9 L447.5,141 L445.6,143.5 L443.8,146 L437.5,147.2 L432.5,147.9 L428.8,146 L426.9,143.5 L425,145.4 L422.5,147.2 L417.5,149.1 M393,149.5 L394.5,147 L398,145.5 L400,147 L399.5,149.5 L397,151 L394,151.5Z M400,140.5 L403,139.5 L405.5,140.5 L404,143 L406.5,145 L409,147.5 L412,150 L412.5,152.5 L410,154 L406,154.5 L401.5,154.5 L400,153.5 L402.5,152 L401,150 L402,148 L400,146 L400.5,143Z M417.5,149.1 L417,150 L414,152 L412,153.5 L409,155 L406,155.5 L402.5,157.5 L405,159 L407.5,161 L407,164 L404.5,165.5 L400,166 L396,166.2 L394,168.5 L395,172 L394.5,175 L395.5,177.5 L399.5,179 M501.2,116 L505,112.2 L512.5,109.8 L521.2,108.5 L528.8,108.5 L525,109.8 L516.2,111 L508.8,113.5 L505.6,117.2 L508.8,119.1 L502.5,118.5Z M500,122.9 L506.2,122.5 L512.5,122.9 L515,121 L520,121 L525,122.9 L528.8,122.9 L526.2,119.8 L526.9,116.6 L530,114.8 L535,116 L536.2,119.1 L537.5,122.9 L538.8,124.8 L533.8,126.6 L536.2,124.1 L535.6,121 L534.4,117.9 L538.8,116 L540,117.9 L545,115.4 L550,116.6 L548.8,114.8 L552.5,112.9 L557.5,112.2 L558.8,113.5 L562.5,111 L570,109.8 L577.5,108.5 L583.8,109.1 L586.2,106.6 L582.5,104.8 L580,106 L573.8,104.8 L568.1,102.9 L570,101.2 L575,100.8 L580,102 L583.8,104.1 L587.5,104.8 L592.5,106 L590,107.2 L595,108.5 L600,107.9 M600,109.1 L603.8,108.5 L605.6,110.4 L602.5,112.2 L600,112.9 L605,113.5 L612.5,114.1 L616.2,115.4 L621.2,114.1 L628.8,114.8 L632.5,117.9 L636.2,118.5 L638.8,117.2 L645,117.2 L650,116.6 L651.2,113.5 L647.5,112 L646.2,110.8 L650,109.5 L655,109.8 L658.8,111 L656.2,112.5 L653.8,114.8 L660,115.4 L667.5,116.6 L672.5,118.5 L680,118.5 L685,119.1 L687.5,121 L695,121 L700,121.6 M661.2,111.2 L669.4,111.8 M642.5,146 L646.2,144.1 L652.5,140.4 L657.5,139.1 L665,138.5 L670,137.9 L673.8,139.1 L677.5,136.6 L678.2,142.2 L678,147.2 L678.5,150.4 L680,153 L684,149.5 L688,146.2 L691,142 L690.2,137.2 L687.5,136 L692.5,132.9 L693.1,134.1 L690,136.6 L695,136.2 L700,136 M700,121.6 L703.1,122.2 L703.8,119.8 L710,120 L716.2,121 L720.5,121.6 M700,136.2 L703.8,136 L710,133.5 L715,132.2 L718.8,131.6 L715.6,129.8 L720.5,129.1 M661.2,111.2 L669.4,112 M134.4,202.2 L137.5,203.2 M139.8,204.5 L143.1,207.2 L141.9,208.2 L140.6,206Z M196.2,171 L200,177.9 L202.5,180.4 L206.2,184.1 L210,187.9 L211.9,186.2 L213.8,187.2 L216.2,191 L218.8,194.1 L221.9,197.9 L225,201 L228.1,204.8 L231.2,207.9 L237.5,211 L243.8,213.5 L250,214.8 L255,217.2 L260,220.4 L262.5,223.5 L267.5,226 L271.2,227.2 L273.8,226 L276.2,229.8 L275.6,233.5 L273.8,237.2 L271.9,241 L271.2,246 M211.9,186.2 L213.1,191 L215.6,195.4 L218.8,199.1 L221.5,201.4 L220.6,198.8 L218.1,195 L215.6,190.8 L214,187.2 M281.2,171 L278.8,174.8 L280,178.5 L275,182.2 L271.2,184.8 L269.4,188.5 L270.2,192.9 L272.5,197 L270.6,195.4 L268.5,192.2 L267.5,190.4 L265,189.1 L260,188.5 L255,189.1 L250,189.8 L246.2,191 L243.1,193.5 L241.9,197.9 L241.9,202.2 L243.1,206 L245.6,208.5 L250,209.1 L253.8,207.9 L255.6,204.8 L259.4,204.1 L258.1,207.2 L257.5,211 L258.1,213.5 L262.5,212.9 L265.6,214.8 L265.6,218.5 L266.9,222.2 L270,224.8 L273.1,225.4 L275,226 L280,222.2 L286.2,220.8 L292.5,222 L300,222.5 M286.2,220.8 L286.9,224.8 M263.8,202.9 L267.5,201 L272.5,201.6 L277.5,203.5 L282.5,205.4 L280,206 L275,204.8 L270,203.8 L265,203.8Z M281.2,208.5 L285,207.2 L290,207.2 L292.5,209.1 L287.5,209.8 L282.5,209.8Z M275,209.8 L278.1,210 M294.4,209.1 L296.9,209.5 M274.6,194.8 L275.6,197.9 M300,222.2 L305,222.5 L306.2,226 L310,229.1 L315,231 L320,232.9 L323.1,236 L323.8,239.8 L327.5,242.2 L333.8,244.8 L341.2,246 M400,179.5 L396.2,182.2 L393.8,187.2 L390,192.2 L386.2,196 L383.1,199.8 L381.2,203.5 L381.9,208.5 L381.2,213.5 L380,216 L382.5,219.8 L386.2,224.8 L390,228.5 L395,232.2 L400,232.9 M380,203.5 L381.2,208.5 L381.9,213.5 L380.6,217.2 L383.8,222.2 L387.5,227.2 L392.5,231 L396.2,232.9 L400,232.2 L407.5,231.2 L416.2,229.8 L418.8,231.6 L421.9,233.5 L425,232.5 L426.9,236 L427.8,241 L426.5,246 M457.5,168.5 L459,165 L462,161.5 L464,160 L466.5,161.5 L467,163.5 L470,163 L471,161 L475,159.5 L477.5,159.8 L475,161 L473,162.5 L476,164 L479,166 L481.5,168 L480,170 L477,170 L473,169 L469,168.5 L465,169.5 L461,170 L458.5,170Z M490.5,163.5 L493,161 L497,159.8 L501,160 L501.5,162 L499,163.5 L497.5,165 L499,167.5 L501.5,169 L503.5,170.5 L502,172 L502.5,175 L501,177 L497.5,177 L494.5,175.5 L495,173 L496,170.5 L494,168 L492,166Z M465.5,189.5 L467.5,194 L470,199 L473,204 L475.5,210 M469.5,190 L471,194 L474,200 L477.5,206 L480,210 M520,197 L514,196.5 L509,194.5 L505,195.5 L500,193 L497,190 L494.5,188.5 L492.5,189.8 L494,193 L496,195.5 L499,199 L503,198 L506,197 L508,195.5 M400,179 L404,179 L407.5,177 L410,174.5 L411,171 L415,169 L416.5,166.5 L421,165.5 L425,164.4 L427.4,165.3 L428.6,167.1 L431,168.9 L433.4,170.4 L435.8,171.6 L437.9,173.1 L437.1,174.7 L439.1,174.3 L440.3,173.1 L442.4,172.8 L442.7,171.7 L440.6,171.7 L438.2,170.7 L435.8,168.9 L433.4,166.8 L431.3,164.4 L431,162.3 L433.4,162 L435.8,163.8 L438.2,166.2 L441.8,168 L443.6,169 L444.5,172.5 L446,175 L447.5,177 L449,177.5 L450,179 L452,180 L454.5,180 L453,178 L451,176.5 L450,174 L449,171.5 L452,171 L454.5,171.5 L455.5,170 L457.5,169 M424.5,167.5 L426.2,167.2 L426.8,170 L426.2,173.5 L424.5,173.5 L424,170.5Z M431.5,175.8 L435,175 L436.8,176.2 L434,177.5 L431.8,176.8Z M450.5,179.5 L455,180 M465.5,180 L469,179.5 M456,171 L455.5,174 L457.5,176.5 L461,177.8 L465,178.5 L468,179 L470,177.5 L472.5,178 L472,181 L470.5,184.5 L469,187.8 L464,187.5 L458,186.8 L452,185.8 L447.5,185 L445,186.8 L443.5,188.5 L441,188 L438,186.8 L434,185 L431,183.5 L429,181.5 L429.5,179 L428.5,177.2 L425,176.8 L420,177 L415,177.8 L410,178.5 L405,179.5 L400,180 M480,208.5 L481.9,213.5 L483.8,218.5 L485.6,219.5 L490,217.2 L495,215.4 L500,212.9 L505,209.8 L508.1,207.9 L511.2,204.1 L512.5,201 L508.8,196 L506.9,194.1 M475.5,210 L478.8,216 L482.5,220.4 L484.4,222 L490,221 L498.1,220.4 L496.9,224.8 L493.8,231 L490,236 L485,241 L481.2,244.8 L480,246 M520,197.1 L523.8,197.2 L527.5,200.4 L531.2,204.1 L535,204.8 L536.2,208.5 L538.1,213.5 L540,218.5 L542.5,223.5 L544.4,226.6 L546.2,224.8 L547.5,221 L547.5,214.8 L551.2,211 L556.2,207.2 L560,204.1 L566.2,201.6 L568.8,203.5 L571.2,207.2 L573.1,212.2 L575.6,213.5 L578.8,211.6 L580,214.1 M547.5,224.8 L550,226 L551,228.5 L548.8,230.4 L547.5,227.9Z M616.2,177 L616.9,181 L620,184.8 L620.6,188.5 L618.8,192.2 L616.9,195.4 L613.8,198.5 L610,201 L605,202.9 L601.2,204.1 L597.5,203.8 L594.4,204.5 L592.5,207.2 L593.8,209.8 L596.9,212.2 L598.1,215.4 L597.5,219.1 L595,222.2 L591.9,224.8 L590,226 L587.5,222.2 L583.8,218.5 L581.2,217.9 L580,220.4 M597.5,206.6 L600,206.2 L600.6,208.5 L598.1,209.1Z M617.5,197.9 L619.4,197.5 L619.8,200.4 L618.1,202.9 L616.9,201Z M617.5,209.8 L620,209.1 L620.6,212.9 L619.4,216 L622.5,217.2 L625.6,219.8 L626.9,223.5 L627.5,227.9 L626.2,231 L623.8,229.8 L621.9,226 L620,228.5 L620.6,224.1 L618.8,220.4 L617.5,216.6 L616.9,212.9Z M611.2,226 L616.2,221.6 M580,224.8 L581.9,228.5 L584.4,232.2 L587.5,236 L589.4,239.1 L587.5,238.5 L583.8,233.5 L581.2,229.8 L580,227.9 M271.5,245.4 L270,248.5 L271.9,252.2 L275,257.2 L278.1,263.5 L280,266 M333.8,245.4 L338.8,246 L345,247.2 L348.8,249.8 L350,253.5 L347.5,257.2 L345,261 L343.1,264.8 L342.5,269.8 L341.2,274.8 L338.8,278.5 L335,280.4 L330,282.2 L326.9,285.4 L326.2,289.1 L323.1,293.5 L318.8,297.2 L315.6,300.4 L312.5,301 L309.4,299.8 L311.2,302.2 L311.9,304.8 L309.4,306.6 L306.2,307.9 L303.1,307.2 L302.5,309.8 L298.8,311 L298.8,314.1 L296.9,316.6 L295,319.8 L293.8,321 M280,266 L285,268.5 L288.8,272.2 L288.5,278.5 L287.8,283.5 L286.9,289.8 L286,296 L285,302.2 L284,308.5 L283.1,313.5 L281.9,321 M426.5,245.4 L427.5,246 L430,249.8 L431.9,253.5 L433.1,258.5 L431.9,263.5 L430.6,268.5 L431.2,273.5 L433.8,279.1 L435.6,284.8 L438.1,289.8 L440.6,294.1 L441.2,297.9 L442.5,300 L445,300.8 L450,299.5 L455,298.2 L460,295.4 L463.8,291.6 L466.2,287.9 L466.2,284.8 L470,282.9 L471.2,279.8 L470,276 L473.1,272.9 L476.2,270.4 L479.4,267.9 L480,264.8 L478.8,258.5 L477.5,253.5 L478.1,248.5 L480,246 M494.4,261.6 L496.2,263.5 L496.9,267.2 L495.6,272.2 L493.8,277.2 L491.9,282.2 L488.8,285 L485.6,283.5 L484.4,279.8 L485.6,276 L485,272.2 L486.9,269.1 L490,267.2 L492.5,264.8Z M605.6,279.1 L608.8,277.2 L613.8,275.4 L618.8,272.9 L621.2,270.4 L625,266.6 L629.4,264.8 L632.5,264.1 L635,261.6 L638.8,260.8 L640,262 L645,261.6 L646.2,263.5 L644.4,266.6 L648.1,269.1 L652.5,271 L653.8,264.8 L655.6,260 L657.5,263.5 L660,267.9 L661.2,272.2 L666.2,276.6 L668.8,279.8 L672.5,283.5 L673.8,287.2 L674,291 L672.5,296 L670,301 L667.5,304.8 L663.1,307.9 L660,306.6 L656.2,307.5 L652.5,306 L650,302.9 L646.9,301 L646.2,297.9 L644.4,300.4 L641.9,298.5 L637.5,296 L632.5,295.4 L627.5,296 L622.5,297.9 L617.5,299.1 L613.1,301 L610,300 L608.8,296 L606.9,289.8 L605.6,284.8Z M659.4,311 L662.5,311.6 L665.6,311 L664.8,314.1 L662.5,316 L660.6,314.1Z M696.9,266 L698.8,269.1 M692.5,275.4 L697.5,279.1 M715,271.6 L720,268.5 M707.5,300.4 L710,303.5 L712.5,306 L715,307.2 L717.5,306 L716.2,309.1 L713.8,311.6 L711.2,310.4 L710.6,307.2 L708.8,304.1Z M710,310.4 L712.5,312.2 L709.4,315.4 L706.2,317.9 L702.5,321 L696.9,321 L700,318.5 L703.8,316 L707.5,313.5Z M100,386 L107.5,385.8 L116.2,385 L125,386.6 L137.5,387.9 L150,387.2 L156.2,388.5 L163.8,386.6 L155,385.8 L150,385.4 L146.2,384.8 L146.9,382.2 L141.2,381.2 L143.8,380.4 L152.5,379.8 L157.5,378.5 L155,376.6 L150,377.2 L143.8,376.6 L138.1,375.4 L137.5,373.5 L142.5,374.1 L150,373.5 L156.2,372.2 L160,370.4 L167.5,369.8 L175,368.5 L185,367.9 L191.2,367.2 L195,368.2 L200,367.5 M128.8,376 L131.9,375.5 L135,377 L131.9,377.8Z M280,320.4 L280,326 L281.9,330.4 L286.2,333.5 L290,335.4 L295,336 L297.5,335.4 L293.1,332.9 L291.9,329.8 L293.1,326 L296.2,323.5 L296.9,320.4 M200,368.2 L205,368.2 L212.5,367.9 L217.5,369.1 L225,370 L236.2,370 L237.5,368.5 L231.9,367 L232.5,365 L237.5,364.5 L243.8,364.8 L244.4,366.6 L250,367 L256.2,366 L262.5,367 L270,367.9 L275,368.2 L281.2,367.9 L287.5,366.6 L292.5,365.8 L294,364.1 L291.9,362.2 L289.4,359.8 L286.2,362.2 L282.5,364.8 L280.6,364.5 L283.8,362.9 L287.5,361 L290,359.8 L293.8,358.5 L295,356 L298.8,354.1 L300,352.9 M300,370.4 L292.5,371.6 L285,372.5 L277.5,373.5 L280,375.4 L276.2,376 L275.6,377.9 L280,379.1 L287.5,380.4 L295,381.2 L300,381.6 M304.4,329.5 L307.5,329 L310.6,329.8 L307.5,330.5Z M300,352.9 L305,351.6 L311.2,350.4 L307.5,352 L302.5,354.1 L300,354.8 M300,359.8 L303.1,362.2 L305,366 L303.8,369.1 L300,370.4 M300,381.6 L305,382.2 L310,384.1 L316.2,382.9 L325,382.2 L336.2,382.2 L343.8,381 L352.5,380.4 L360,379.1 L358.8,377.2 L352.5,377 L348.8,376 L352.5,374.8 L360,372.9 L367.5,371.6 L375,371 L380,369.8 L382.5,367.9 L387.5,366 L392.5,364.1 L397.5,363.5 L400,362.9 M316.2,379.1 L320,377.9 L325,375.4 L330,374.8 L334.4,376.6 L335,378.5 L331.2,379.8 L325,379.8 L320,379.5Z M300,379.8 L303.8,378.5 L306.9,378.8 L305.6,380.4 M400,363.5 L405,363.8 L410,364.2 L416.2,362.9 L422.5,361.2 L426.2,361.2 L429.4,363 L433.1,361.2 L436.2,362 L440,361 L446.2,361.2 L448.8,362.5 L456.2,362 L461.2,361.2 L465.6,360.2 L468.1,358.2 L471.9,359.8 L476.2,361.2 L480,359.5 L486.2,357.9 L492.5,356.6 L497.5,355 L500,354.1 M500,354.1 L505,353.8 L508.8,355.4 L513.8,357.9 L518.8,357.2 L525,357.2 L529.4,358.5 L528.8,361 L526.9,362.2 L528.1,364.8 L531.2,365 L536.2,361.6 L542.5,360.4 L547.5,357.9 L553.8,356.6 L560,356 L561.9,354.8 L563.8,356.2 L570,356.6 L576.2,357 L582.5,356 L587.5,353.5 L592.5,355.8 L600,355.4 M528.1,325.5 L530,325 L531.9,326 L530,326.5Z M600,355 L605,354.1 L610,356 L616.2,357 L622.5,355.4 L631.2,355 L640,354.8 L642.5,353.2 L644.4,355.4 L652.5,355.8 L660,356 L662.5,357.9 L670,359.1 L675,358.8 L681.2,360.8 L687.5,362.2 L695,362.9 L700,363.2 M700,367.2 L695,369.1 L691.9,371.6 L693.1,374.1 L697.5,376 L692.5,376.6 L687.5,377.9 L685.6,379.8 L688.8,382.2 L695,383.5 L700,384.1 M700,363.2 L702.5,363.2 L704.8,364.5 L701.2,367 L700,367.2 M700,384.1 L707.5,385.4 L715,386 L720.5,386.6 M643,146.5 L646,147 L650,146.5 L654,148.5 L654.5,151.5 L653,155 L650,158.5 L646,162 L642,165 L638,166.5 L634,168 L631,171 L629.5,173.5 L631.5,174.5 L633,177 L632,179.5 L630,181 L628,180.5 L627.5,178 L626.5,175 L624,173 L621,172.5 L619,170.5 L615,172 L613,174 L615,176 L619.5,176.5 L617,177.5 L615.5,179.5 M654.5,147.5 L656.5,152 L657.8,156.5 L656.5,160 L655.2,160.8 L655,157.5 L655.5,154.5 L654.5,151.5Z M654.4,167.5 L655.6,165 L658.8,163.5 L661.2,165 L660,166.9 L657.5,167.5 L655.6,169Z M654,170 L653.5,174 L651.5,177 L649,179 L645,180.5 L641,182 L637,183 L635,184 L634.5,187 L633,184.5 L634,183 L637.5,181 L641.5,179.5 L645,177.5 L649,175.5 L651,172.5 L651.5,169.5Z M278,142 L275.5,139 L276.5,135 L275,133.5 L280,133 L286,134.5 L290,136.5 L292,139.5 L295,140 L298.5,137 L302,140 L305,143.5 L309,145.5 L313,148 L314.5,151 L313,152.5 L310,153.5 L304,155 L298,155 L293,156.5 L289.5,158.5 L287.5,160.5 L290,159.5 L295,157.5 L300,156.5 L299.5,159 L302,160 L306,160.5 L307,162 L303,163 L300,163.5 L298,164.5 L296.5,166 L296,164.5 L293,165.5 L290,167 L289,169 L286,170 L283.5,171 L282,173 L279.5,174 L278.5,176 L279.5,177.5 L280,179 M308,158.5 L312,155 L314.5,152.5 L316,155.5 L319,157 L319.5,159.5 L317,160.5 L314,159.5 L311,160 L308.5,159.5Z M267,98 L275,97.2 L286,97 L296,97.5 L303.8,98.5 L300,100.2 L294.5,100.8 L290.5,103 L286,105.2 L282,104 L278,106.5 L274,109.2 L270,108.5 L273,105.5 L269.5,103 L267.5,100.5Z M300,108.5 L294,107.8 L288,107 L284,105.8 L289,103.5 L294,101.5 L300,100.4 M260,110 L266,109.5 L272,110.5 L271,112.5 L265,112.8 L260,112Z M255,116.5 L260,114.5 L266,115 L272,114.5 L278,115.5 L284,117.5 L290,119.5 L295,122 L300,124.5 L303.5,126 L300,128 L296,127.5 L299,130 L296.5,133 L293,132 L290,130 L286,128 L282,126 L279,123 L275,120.5 L270,120 L266,121 L262,120 L258,118.5Z M260,129.5 L264,128 L269,129 L272,132 L270,134 L265,133 L262,131.5Z M245,101.5 L252,100.5 L259,101 L263,102.5 L258,103.5 L250,103Z M254,106 L260,105.2 L263,106.5 L260,108 L255,107.6Z M574,231.5 L577,231 L580,233.5 L583,236.5 L586.5,240 L590,243.5 L592.5,247 L593,251 L591.5,252 L589,250 L586,247 L583,244 L580,240 L577,236 L574.5,233Z M593,252 L597,252.5 L602,253 L606,254.5 L609,255 L608.5,256 L604,255 L599,254.5 L594.5,253.5Z M611,255.5 L614,255 L617,255.5 L614,256.5Z M616,257 L620,255 L622,255.5 L618,258Z M622.5,258 L626,256 L629.5,255 L628,256.5 L624.5,258.5Z M598,238 L601,236.5 L604,235 L607,232.5 L610,230 L612,229.5 L614.5,231.5 L613,234 L612.5,236.5 L614,239 L612.5,241.5 L611,244 L610,247 L607,247.5 L604,246.5 L600,245.5 L598.5,242.5 L597.5,240Z M615.5,240 L618,239 L622,239 L625,238.2 L624.5,239.5 L621,240.5 L618,241.2 L617.5,243 L620,242.5 L622.5,243 L620,244 L619.5,246 L621.5,248 L622,250 L620,249.5 L618.5,247 L617,245 L616.5,248 L617,250 L615.5,250 L615,246 L615.2,243Z M629.5,237.5 L631,238.5 L631.2,241 L630,242 L629.5,239.5Z M626.5,246.5 L630,246.2 L635,246.8 M634.5,243 L637,241.5 L640,241.8 L641.5,244 L640,246.5 L642.5,246.2 L645,244 L648,243.5 L652,244.5 L657,246.5 L661,249 L663.5,252 L665,255 L668,257.5 L670,259 L667,258.8 L664,257 L662,254.5 L659,254 L656.5,256 L654,257 L650,255.5 L647,254.5 L649,252 L646,249.5 L642.5,248 L639.5,247.5 L638,245.5 L636,244.5Z M665,251 L668.5,250 L672,248.5 L673.5,247 L671,245.5 L669.5,245.5 L671.5,247.2 L670,249 L666.5,250Z M676,249.5 L679,252 L683,254 L687,256 L689,258.5 L689.5,259.5 L686,258 L682.5,255.5 L678.5,253Z M640.5,250 L642,252.5 M630,238.5 L631.5,237.5 L631,241.5 M630,246.2 L634,246.5 L635,247.2 M198.5,109 L202,107.5 L207,107 L210,108.5 L207,110.5 L202,110.5Z M194,113.5 L196,112 L202,112.5 L208,113.5 L214,113.5 L220,114.5 L225,114 L230,115.5 L232,118.5 L234,120.5 L230,122 L224,123 L219,122.5 L215,124 L211,123.5 L209,121 L205,120 L206,117.5 L201,116.5 L197,117 L193,116.5Z M214,106 L218,104.8 L221,105.5 L220,107 L216,107.5Z M210.5,108.5 L215,108 L220,109 L224,109.5 L228,110.5 L225,111.5 L220,111 L215,110.5Z M228.5,104.5 L233,104.5 L237,105.5 L235,106.5 L230,106Z M233,109.5 L238,109.2 L241,110.5 L237,111.5 L233.5,110.8Z M240,105 L246,104.5 L250,105.5 L248,107 L242,107Z M242,108.5 L248,108 L254,109 L250,110.5 L244,110.5Z M234,115 L238,113.5 L242,115 L244,118 L242,121 L246,122 L247,124 L244,125 L240,123 L237,122 L235,119Z M254,115.5 L258,114 L262,115 L264,117 L262,119.5 L259,120 L256,118.5Z M215,115.5 L220,116.5 L224,116 L227,117.5 L223,118.5 L218,118Z M202,114.5 L206,115.2 L210,114.8 M238,108 L250,106 L256,110 L246,112Z M252,114 L262,112 L268,116 L258,119Z M262,104 L274,103 L278,107 L268,109Z M240,118 L250,117 L254,122 L244,123Z M266,120 L276,119 L280,124 L270,125Z M226,104 L236,103 L240,106 L230,108Z M424.3,147.8 L423.9,145.5 L424.6,143.3 L426.1,141.8 L428,141 L428.8,142.5 L428,144.8 L427.6,146.6 L429.1,147.4 M429.4,144.2 L431,143.6 L431.5,145.4 L429.7,145.9Z"/>
</g>
</g>
<rect x="100.5" y="86.5" width="620.0" height="310.0" fill="none" stroke="#000" stroke-width="1"/>
<rect x="100.50" y="468.5" width="69.19" height="31" fill="#fff7ec"/>
<rect x="169.39" y="468.5" width="69.19" height="31" fill="#fee8c8"/>
<rect x="238.28" y="468.5" width="69.19" height="31" fill="#fdd49e"/>
<rect x="307.17" y="468.5" width="69.19" height="31" fill="#fdbb84"/>
<rect x="376.06" y="468.5" width="69.19" height="31" fill="#fc8d59"/>
<rect x="444.94" y="468.5" width="69.19" height="31" fill="#ef6548"/>
<rect x="513.83" y="468.5" width="69.19" height="31" fill="#d7301f"/>
<rect x="582.72" y="468.5" width="69.19" height="31" fill="#b30000"/>
<rect x="651.61" y="468.5" width="69.19" height="31" fill="#7f0000"/>
<line x1="169.39" y1="468.5" x2="169.39" y2="499.5" stroke="#000" stroke-width="0.85"/>
<line x1="238.28" y1="468.5" x2="238.28" y2="499.5" stroke="#000" stroke-width="0.85"/>
<line x1="307.17" y1="468.5" x2="307.17" y2="499.5" stroke="#000" stroke-width="0.85"/>
<line x1="376.06" y1="468.5" x2="376.06" y2="499.5" stroke="#000" stroke-width="0.85"/>
<line x1="444.94" y1="468.5" x2="444.94" y2="499.5" stroke="#000" stroke-width="0.85"/>
<line x1="513.83" y1="468.5" x2="513.83" y2="499.5" stroke="#000" stroke-width="0.85"/>
<line x1="582.72" y1="468.5" x2="582.72" y2="499.5" stroke="#000" stroke-width="0.85"/>
<line x1="651.61" y1="468.5" x2="651.61" y2="499.5" stroke="#000" stroke-width="0.85"/>
<rect x="100.5" y="468.5" width="620.0" height="31" fill="none" stroke="#000" stroke-width="1"/>
<g style="filter:grayscale(1)">
<text x="99.70" y="518.7" font-size="17.6" text-anchor="middle" textLength="30.0" lengthAdjust="spacingAndGlyphs">240</text>
<text x="168.59" y="518.7" font-size="17.6" text-anchor="middle" textLength="30.0" lengthAdjust="spacingAndGlyphs">248</text>
<text x="237.48" y="518.7" font-size="17.6" text-anchor="middle" textLength="30.0" lengthAdjust="spacingAndGlyphs">256</text>
<text x="306.37" y="518.7" font-size="17.6" text-anchor="middle" textLength="30.0" lengthAdjust="spacingAndGlyphs">264</text>
<text x="375.26" y="518.7" font-size="17.6" text-anchor="middle" textLength="30.0" lengthAdjust="spacingAndGlyphs">272</text>
<text x="444.14" y="518.7" font-size="17.6" text-anchor="middle" textLength="30.0" lengthAdjust="spacingAndGlyphs">280</text>
<text x="513.03" y="518.7" font-size="17.6" text-anchor="middle" textLength="30.0" lengthAdjust="spacingAndGlyphs">288</text>
<text x="581.92" y="518.7" font-size="17.6" text-anchor="middle" textLength="30.0" lengthAdjust="spacingAndGlyphs">296</text>
<text x="650.81" y="518.7" font-size="17.6" text-anchor="middle" textLength="30.0" lengthAdjust="spacingAndGlyphs">304</text>
<text x="719.70" y="518.7" font-size="17.6" text-anchor="middle" textLength="30.0" lengthAdjust="spacingAndGlyphs">312</text>
<text x="410.2" y="543.8" font-size="17.8" text-anchor="middle" textLength="10.2" lengthAdjust="spacingAndGlyphs">K</text>
<text x="410" y="79" font-size="20" text-anchor="middle" textLength="161.5" lengthAdjust="spacingAndGlyphs">Air temperature</text>
</g>
</svg></body></html>
